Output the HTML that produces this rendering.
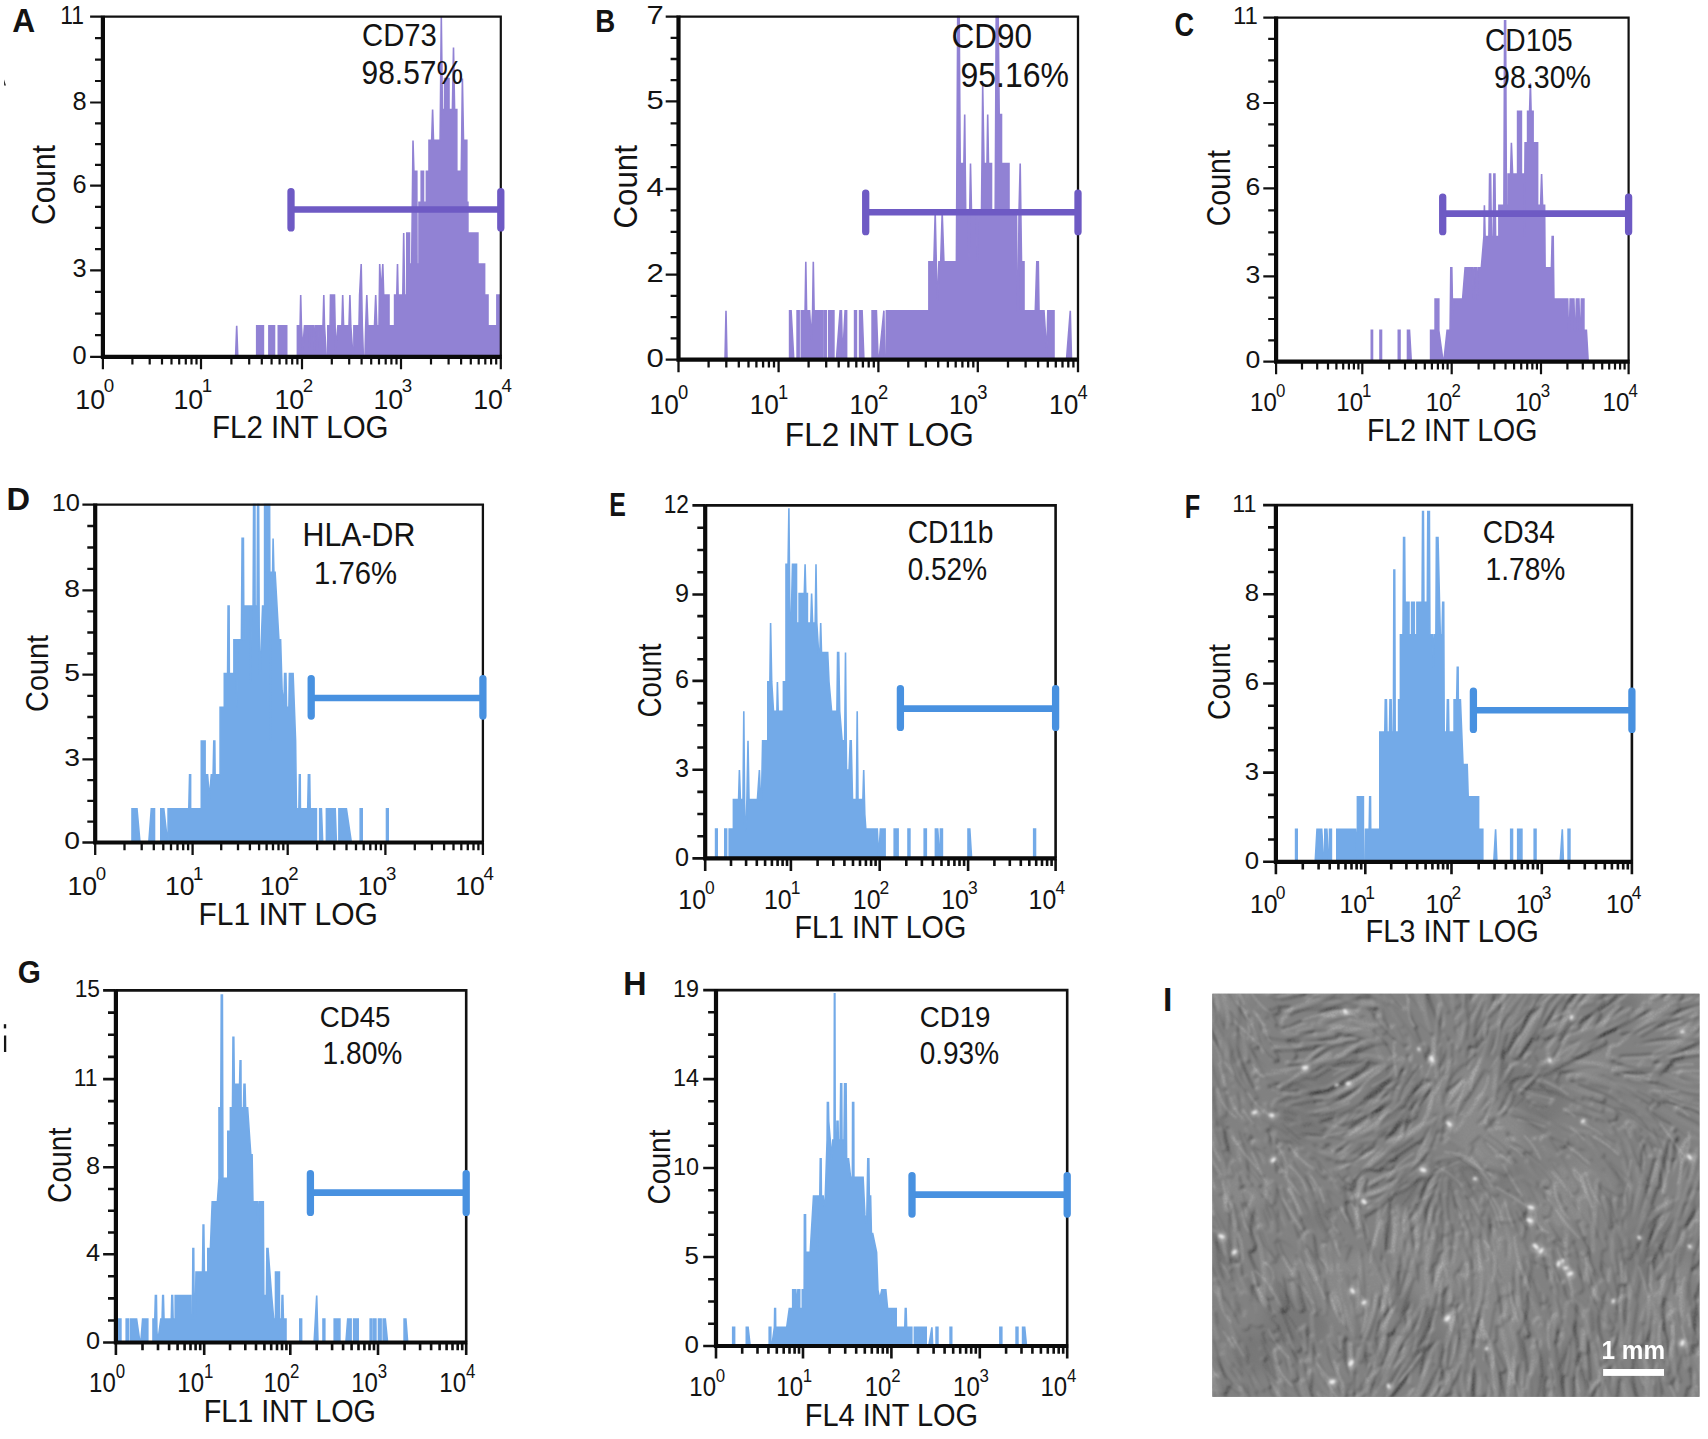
<!DOCTYPE html>
<html lang="en"><head><meta charset="utf-8"><title>Flow cytometry figure</title>
<style>html,body{margin:0;padding:0;background:#fff}body{width:1708px;height:1439px;overflow:hidden}svg{display:block}text{font-family:"Liberation Sans", Arial, sans-serif;fill:#131313}</style></head><body>
<svg width="1708" height="1439" viewBox="0 0 1708 1439">
<rect width="1708" height="1439" fill="#fff"/>
<g>
<path d="M235.6 356.8L236.7 325.9L237.8 356.8L256.7 356.8L256.7 325.9L263.4 325.9L263.4 356.8L268.9 356.8L268.9 325.9L274.5 325.9L274.5 356.8L278.3 356.8L278.3 325.9L286.7 325.9L286.7 356.8L297.4 356.8L297.4 325.9L300.1 325.9L300.7 295L301.4 325.9L302.7 350.6L304.5 325.9L308.9 325.9L309.4 347.5L310.1 325.9L313.4 325.9L314.3 350.6L315.2 325.9L317.4 325.9L317.8 347.5L318.3 325.9L323 325.9L323.8 295L324.5 325.9L326.3 356.8L327.8 356.8L327.8 325.9L330.1 325.9L330.5 295L331.9 295L332.5 325.9L333.2 295L334.5 295L335.6 350.6L337.9 325.9L341.9 325.9L342.7 295L343.6 325.9L349 325.9L349.9 295L350.8 325.9L353 356.8L353.9 356.8L353.9 325.9L359 325.9L359.6 295L361.2 264L362.3 325.9L363.4 356.8L365 356.8L365.7 325.9L366.8 295L367.9 325.9L374.5 325.9L375.7 295L376.8 325.9L379 325.9L379.7 264L381.2 295L382.8 264L383.7 295L389 295L389 325.9L394.6 325.9L394.6 295L396.8 295L397.5 264L398.1 295L402.8 295L403.7 233.1L404.6 295L406.8 295L406.8 233.1L409.5 233.1L409.5 264L411.7 264L413 140.4L413.9 171.3L416.8 171.3L417 264L419 264L419 202.2L421.2 202.2L421.2 171.3L423.5 171.3L423.5 202.2L426.4 202.2L426.4 171.3L429 171.3L429 140.4L431.7 140.4L432.6 109.5L433.5 140.4L440.1 140.4L441.3 16.7L442.4 109.5L444.6 109.5L444.6 78.5L449 78.5L449 109.5L452.4 109.5L453.5 47.6L454.6 109.5L456.8 109.5L456.8 171.3L461.3 171.3L462.4 78.5L463.5 140.4L466.8 140.4L466.8 202.2L467.9 202.2L467.9 233.1L477.9 233.1L477.9 264L484.6 264L484.6 295L488 295L488 325.9L496.9 325.9L496.9 295L500.2 295L500.6 356.8" fill="#9182d4" stroke="#9182d4" stroke-width="1.6" stroke-linejoin="miter" stroke-miterlimit="6"/>
<path d="M102.9 16.7H500.8V356.8" fill="none" stroke="#111" stroke-width="2.2"/>
<g stroke="#6e5ac4" stroke-linecap="round"><path d="M291 209.5H500.8" stroke-width="6.6" stroke-linecap="butt"/><path d="M291 191.6V227.9 M500.8 191.6V227.9" stroke-width="7.3"/></g>
<path d="M90.1 356.8h12.8M95 335.2h7.9M95 313.6h7.9M95 291.9h7.9M90.1 270.3h12.8M95 249.1h7.9M95 227.9h7.9M95 206.8h7.9M90.1 185.6h12.8M95 164.8h7.9M95 144.1h7.9M95 123.3h7.9M90.1 102.5h12.8M95 81h7.9M95 59.6h7.9M95 38.2h7.9M90.1 16.7h12.8M102.9 356.8v12.5M132.4 356.8v7.7M149.7 356.8v7.7M162 356.8v7.7M171.5 356.8v7.7M179.2 356.8v7.7M185.8 356.8v7.7M191.5 356.8v7.7M196.5 356.8v7.7M201 356.8v12.5M231.4 356.8v7.7M249.2 356.8v7.7M261.8 356.8v7.7M271.6 356.8v7.7M279.6 356.8v7.7M286.4 356.8v7.7M292.2 356.8v7.7M297.4 356.8v7.7M302 356.8v12.5M331.8 356.8v7.7M349.2 356.8v7.7M361.6 356.8v7.7M371.2 356.8v7.7M379 356.8v7.7M385.7 356.8v7.7M391.4 356.8v7.7M396.5 356.8v7.7M401 356.8v12.5M431 356.8v7.7M448.6 356.8v7.7M461.1 356.8v7.7M470.8 356.8v7.7M478.7 356.8v7.7M485.3 356.8v7.7M491.1 356.8v7.7M496.2 356.8v7.7M500.8 356.8v12.5" fill="none" stroke="#111" stroke-width="2.2"/>
<path d="M102.9 15.7V356.8H501.8" fill="none" stroke="#0a0a0a" stroke-width="4.2" stroke-linejoin="miter"/>
<text x="86.5" y="363.9" font-size="25.4" text-anchor="end">0</text>
<text x="86.5" y="277.4" font-size="25.4" text-anchor="end">3</text>
<text x="86.5" y="192.7" font-size="25.4" text-anchor="end">6</text>
<text x="86.5" y="109.6" font-size="25.4" text-anchor="end">8</text>
<text transform="translate(83.9 23.8) scale(0.900 1)" font-size="25.4" text-anchor="end">11</text>
<text transform="translate(105.1 408.7) scale(1.080 1.090)" font-size="24.8" text-anchor="end">10</text>
<text transform="translate(103.7 392.3) scale(1.080 1.090)" font-size="17.4">0</text>
<text transform="translate(203.2 408.7) scale(1.080 1.090)" font-size="24.8" text-anchor="end">10</text>
<text transform="translate(201.8 392.3) scale(1.080 1.090)" font-size="17.4">1</text>
<text transform="translate(304.2 408.7) scale(1.080 1.090)" font-size="24.8" text-anchor="end">10</text>
<text transform="translate(302.8 392.3) scale(1.080 1.090)" font-size="17.4">2</text>
<text transform="translate(403.2 408.7) scale(1.080 1.090)" font-size="24.8" text-anchor="end">10</text>
<text transform="translate(401.8 392.3) scale(1.080 1.090)" font-size="17.4">3</text>
<text transform="translate(503 408.7) scale(1.080 1.090)" font-size="24.8" text-anchor="end">10</text>
<text transform="translate(501.6 392.3) scale(1.080 1.090)" font-size="17.4">4</text>
<text transform="translate(300.3 438.2) scale(1 1.07)" font-size="29.5" text-anchor="middle">FL2 INT LOG</text>
<text transform="translate(55 185) rotate(-90) scale(1 1.090)" font-size="30" text-anchor="middle">Count</text>
<text transform="translate(362 45.8) scale(1 1.09)" font-size="29.3">CD73</text>
<text transform="translate(361.6 83.6) scale(1 1.09)" font-size="29.9">98.57%</text>
<text transform="translate(12.2 32) scale(0.982 1)" font-size="32.3" font-weight="bold" fill="#231f20">A</text>
</g>
<g>
<path d="M725 359.7L726 310.7L727 359.7L789.6 359.7L789.6 310.7L791.1 310.7L793.8 359.7L797.1 359.7L797.1 310.7L799.1 310.7L799.1 359.7L801.3 359.7L801.3 310.7L805.1 310.7L805.8 261.7L806.6 310.7L809.6 310.7L811.3 340.1L812.6 310.7L813.3 261.7L814.1 310.7L822.6 310.7L822.6 359.7L824.3 359.7L824.3 310.7L826.3 310.7L826.3 359.7L828.8 359.7L828.8 310.7L833.9 310.7L833.9 359.7L836.4 359.7L840.1 310.7L841.4 310.7L842.6 359.7L845.1 310.7L846.6 310.7L846.6 359.7L854.6 359.7L854.6 310.7L856.4 310.7L856.4 359.7L859.6 359.7L859.6 310.7L862.1 310.7L863.9 359.7L872.1 359.7L872.1 310.7L876.4 310.7L878.1 359.7L879.1 359.7L883.9 310.7L884.6 359.7L886.1 359.7L886.4 310.7L928.9 310.7L928.9 261.7L933.9 261.7L935.2 212.7L936.7 281.3L937.7 300.9L938.9 261.7L940.7 261.7L942.2 212.7L943.9 261.7L956.4 261.7L957.7 16.6L959.2 16.6L960.2 163.6L963.9 163.6L964.7 114.6L965.7 212.7L968.2 212.7L969 261.7L969.7 212.7L970.5 163.6L971.5 212.7L976.5 212.7L977.2 261.7L978.2 212.7L981.5 212.7L982.7 85.2L984 163.6L987 163.6L987.7 114.6L988.5 163.6L991.5 163.6L991.5 212.7L995.2 212.7L996.2 16.6L998.2 16.6L999.2 114.6L1001.5 114.6L1001.5 163.6L1009 163.6L1009 212.7L1016.5 212.7L1017.2 310.7L1018.2 310.7L1019 212.7L1020.2 163.6L1021.5 261.7L1024 261.7L1024 310.7L1035.3 310.7L1036.8 261.7L1038.3 261.7L1039 310.7L1044 310.7L1046.8 354.8L1047.8 310.7L1054 310.7L1054 359.7L1066.5 359.7L1070.3 310.7L1071.5 359.7" fill="#9182d4" stroke="#9182d4" stroke-width="1.6" stroke-linejoin="miter" stroke-miterlimit="6"/>
<path d="M678.5 16.6H1078V359.7" fill="none" stroke="#111" stroke-width="2.3"/>
<g stroke="#6e5ac4" stroke-linecap="round"><path d="M865.7 212.3H1078" stroke-width="6.6" stroke-linecap="butt"/><path d="M865.7 193.1V231.7 M1078 193.1V231.7" stroke-width="7.3"/></g>
<path d="M665.7 359.7h12.8M670.6 338.4h7.9M670.6 317.1h7.9M670.6 295.9h7.9M665.7 274.6h12.8M670.6 253.2h7.9M670.6 231.8h7.9M670.6 210.4h7.9M665.7 189h12.8M670.6 167.1h7.9M670.6 145.2h7.9M670.6 123.3h7.9M665.7 101.4h12.8M670.6 80.2h7.9M670.6 59h7.9M670.6 37.8h7.9M665.7 16.6h12.8M678.5 359.7v12.5M708.6 359.7v7.7M726.3 359.7v7.7M738.8 359.7v7.7M748.5 359.7v7.7M756.4 359.7v7.7M763.1 359.7v7.7M768.9 359.7v7.7M774 359.7v7.7M778.6 359.7v12.5M808.6 359.7v7.7M826.2 359.7v7.7M838.7 359.7v7.7M848.4 359.7v7.7M856.3 359.7v7.7M862.9 359.7v7.7M868.7 359.7v7.7M873.8 359.7v7.7M878.4 359.7v12.5M908.3 359.7v7.7M925.8 359.7v7.7M938.2 359.7v7.7M947.9 359.7v7.7M955.7 359.7v7.7M962.4 359.7v7.7M968.2 359.7v7.7M973.3 359.7v7.7M977.8 359.7v12.5M1008 359.7v7.7M1025.6 359.7v7.7M1038.1 359.7v7.7M1047.8 359.7v7.7M1055.8 359.7v7.7M1062.5 359.7v7.7M1068.3 359.7v7.7M1073.4 359.7v7.7M1078 359.7v12.5" fill="none" stroke="#111" stroke-width="2.3"/>
<path d="M678.5 15.6V359.7H1079" fill="none" stroke="#0a0a0a" stroke-width="4.2" stroke-linejoin="miter"/>
<text transform="translate(663.8 367.1) scale(1.180 1)" font-size="26.3" text-anchor="end">0</text>
<text transform="translate(663.8 282) scale(1.180 1)" font-size="26.3" text-anchor="end">2</text>
<text transform="translate(663.8 196.4) scale(1.180 1)" font-size="26.3" text-anchor="end">4</text>
<text transform="translate(663.8 108.8) scale(1.180 1)" font-size="26.3" text-anchor="end">5</text>
<text transform="translate(663.8 24) scale(1.180 1)" font-size="26.3" text-anchor="end">7</text>
<text transform="translate(678.8 414.1) scale(1.010 1.080)" font-size="26" text-anchor="end">10</text>
<text transform="translate(678 399.1) scale(1.010 1.080)" font-size="18.2">0</text>
<text transform="translate(778.9 414.1) scale(1.010 1.080)" font-size="26" text-anchor="end">10</text>
<text transform="translate(778.1 399.1) scale(1.010 1.080)" font-size="18.2">1</text>
<text transform="translate(878.7 414.1) scale(1.010 1.080)" font-size="26" text-anchor="end">10</text>
<text transform="translate(877.9 399.1) scale(1.010 1.080)" font-size="18.2">2</text>
<text transform="translate(978.1 414.1) scale(1.010 1.080)" font-size="26" text-anchor="end">10</text>
<text transform="translate(977.3 399.1) scale(1.010 1.080)" font-size="18.2">3</text>
<text transform="translate(1078.3 414.1) scale(1.010 1.080)" font-size="26" text-anchor="end">10</text>
<text transform="translate(1077.5 399.1) scale(1.010 1.080)" font-size="18.2">4</text>
<text transform="translate(879.4 445.5) scale(1 1.07)" font-size="31.6" text-anchor="middle">FL2 INT LOG</text>
<text transform="translate(636.7 186.8) rotate(-90) scale(1 1.080)" font-size="31.3" text-anchor="middle">Count</text>
<text transform="translate(951.4 47.7) scale(1 1.09)" font-size="31.5">CD90</text>
<text transform="translate(960.5 87.4) scale(1 1.09)" font-size="32">95.16%</text>
<text transform="translate(595.2 31.6) scale(0.873 1)" font-size="31.7" font-weight="bold" fill="#231f20">B</text>
</g>
<g>
<path d="M1371.3 361.7L1371.3 330.4L1372.5 330.4L1372.5 361.7L1380 361.7L1380 330.4L1381.5 330.4L1381.5 361.7L1398.3 361.7L1398.3 330.4L1400 330.4L1400 361.7L1407.5 361.7L1407.5 330.4L1409.5 330.4L1411.3 361.7L1430.6 361.7L1430.6 330.4L1435.1 330.4L1435.1 299.1L1438.8 299.1L1438.8 330.4L1443.1 361.7L1443.8 361.7L1447.1 330.4L1450.1 330.4L1450.8 267.9L1451.8 267.9L1452.6 314.8L1453.8 299.1L1462.6 299.1L1465.1 267.9L1472.6 267.9L1473.3 299.1L1474.3 267.9L1476.3 267.9L1477.1 299.1L1478.1 267.9L1481.3 267.9L1483.9 236.6L1484.4 205.3L1485.1 236.6L1488.9 236.6L1489.6 174L1490.6 174L1491.4 236.6L1493.1 236.6L1493.9 174L1494.9 174L1495.6 236.6L1498.9 236.6L1498.9 205.3L1503.9 205.3L1504.6 20.7L1505.6 20.7L1506.4 205.3L1508.1 205.3L1508.1 174L1510.6 174L1511.4 142.7L1512.6 174L1517.6 174L1517.6 111.4L1521.4 111.4L1521.4 174L1523.9 174L1524.4 236.6L1525.1 142.7L1527.6 142.7L1527.6 111.4L1529.6 111.4L1530.4 83.3L1531.1 111.4L1533.1 111.4L1533.1 142.7L1537.6 142.7L1537.6 205.3L1540.6 205.3L1541.6 174L1542.6 205.3L1544.6 205.3L1545.1 267.9L1546.4 267.9L1551.4 267.9L1552.2 236.6L1553.2 236.6L1553.9 299.1L1567.7 299.1L1568.4 330.4L1569.4 330.4L1570.2 299.1L1573.9 299.1L1574.7 330.4L1575.7 330.4L1576.4 299.1L1578.9 299.1L1579.7 330.4L1580.7 330.4L1581.4 299.1L1583.9 299.1L1583.9 330.4L1586.4 330.4L1588.2 361.7" fill="#9182d4" stroke="#9182d4" stroke-width="1.6" stroke-linejoin="miter" stroke-miterlimit="6"/>
<path d="M1276.1 17.6H1628.6V361.7" fill="none" stroke="#111" stroke-width="2.2"/>
<g stroke="#6e5ac4" stroke-linecap="round"><path d="M1442.7 213.6H1628.6" stroke-width="6.6" stroke-linecap="butt"/><path d="M1442.7 197.1V231.7 M1628.6 197.1V231.7" stroke-width="7.3"/></g>
<path d="M1263.3 361.7h12.8M1268.2 340.4h7.9M1268.2 319h7.9M1268.2 297.6h7.9M1263.3 276.3h12.8M1268.2 254.3h7.9M1268.2 232.3h7.9M1268.2 210.3h7.9M1263.3 188.3h12.8M1268.2 167h7.9M1268.2 145.7h7.9M1268.2 124.3h7.9M1263.3 103h12.8M1268.2 81.7h7.9M1268.2 60.3h7.9M1268.2 38.9h7.9M1263.3 17.6h12.8M1276.1 361.7v12.5M1302 361.7v7.7M1317.2 361.7v7.7M1328 361.7v7.7M1336.4 361.7v7.7M1343.2 361.7v7.7M1348.9 361.7v7.7M1353.9 361.7v7.7M1358.4 361.7v7.7M1362.3 361.7v12.5M1389.2 361.7v7.7M1405 361.7v7.7M1416.1 361.7v7.7M1424.8 361.7v7.7M1431.9 361.7v7.7M1437.9 361.7v7.7M1443 361.7v7.7M1447.6 361.7v7.7M1451.7 361.7v12.5M1478.6 361.7v7.7M1494.3 361.7v7.7M1505.5 361.7v7.7M1514.1 361.7v7.7M1521.2 361.7v7.7M1527.2 361.7v7.7M1532.3 361.7v7.7M1536.9 361.7v7.7M1541 361.7v12.5M1567.4 361.7v7.7M1582.8 361.7v7.7M1593.7 361.7v7.7M1602.2 361.7v7.7M1609.2 361.7v7.7M1615 361.7v7.7M1620.1 361.7v7.7M1624.6 361.7v7.7M1628.6 361.7v12.5" fill="none" stroke="#111" stroke-width="2.2"/>
<path d="M1276.1 16.6V361.7H1629.6" fill="none" stroke="#0a0a0a" stroke-width="4.2" stroke-linejoin="miter"/>
<text transform="translate(1260.4 368.2) scale(1.120 1)" font-size="23.8" text-anchor="end">0</text>
<text transform="translate(1260.4 282.8) scale(1.120 1)" font-size="23.8" text-anchor="end">3</text>
<text transform="translate(1260.4 194.8) scale(1.120 1)" font-size="23.8" text-anchor="end">6</text>
<text transform="translate(1260.4 109.5) scale(1.120 1)" font-size="23.8" text-anchor="end">8</text>
<text transform="translate(1257.8 24.1) scale(1.008 1)" font-size="23.8" text-anchor="end">11</text>
<text transform="translate(1276.8 411.3) scale(1.010 1.075)" font-size="23.8" text-anchor="end">10</text>
<text transform="translate(1275.9 397) scale(1.010 1.075)" font-size="16.7">0</text>
<text transform="translate(1363 411.3) scale(1.010 1.075)" font-size="23.8" text-anchor="end">10</text>
<text transform="translate(1362.1 397) scale(1.010 1.075)" font-size="16.7">1</text>
<text transform="translate(1452.4 411.3) scale(1.010 1.075)" font-size="23.8" text-anchor="end">10</text>
<text transform="translate(1451.5 397) scale(1.010 1.075)" font-size="16.7">2</text>
<text transform="translate(1541.7 411.3) scale(1.010 1.075)" font-size="23.8" text-anchor="end">10</text>
<text transform="translate(1540.8 397) scale(1.010 1.075)" font-size="16.7">3</text>
<text transform="translate(1629.3 411.3) scale(1.010 1.075)" font-size="23.8" text-anchor="end">10</text>
<text transform="translate(1628.4 397) scale(1.010 1.075)" font-size="16.7">4</text>
<text transform="translate(1452.2 440.5) scale(1 1.07)" font-size="28.5" text-anchor="middle">FL2 INT LOG</text>
<text transform="translate(1229.8 188.2) rotate(-90) scale(1 1.150)" font-size="28.6" text-anchor="middle">Count</text>
<text transform="translate(1485 50.7) scale(1 1.09)" font-size="28.2">CD105</text>
<text transform="translate(1494 88.4) scale(1 1.09)" font-size="28.6">98.30%</text>
<text transform="translate(1174.6 35.9) scale(0.819 1)" font-size="33.1" font-weight="bold" fill="#231f20">C</text>
</g>
<g>
<path d="M132 842.5L132 808.7L133.8 808.7L134.5 832.4L135 808.7L137 808.7L140 842.5L148.8 842.5L151.3 808.7L154.5 808.7L154.5 842.5L160.8 842.5L160.8 808.7L163.8 808.7L167.6 842.5L168.1 842.5L168.1 808.7L188.8 808.7L189.6 774.9L190.6 774.9L190.6 808.7L201.3 808.7L201.3 741.1L205.1 741.1L205.1 774.9L207.6 774.9L209.3 798.6L211.3 774.9L213.1 774.9L213.8 741.1L214.8 741.1L215.1 774.9L220.1 774.9L220.1 707.3L224.3 707.3L224.3 673.5L227.6 673.5L228.1 606L229.1 606L229.3 673.5L233.9 673.5L233.9 639.8L236.4 639.8L236.9 707.3L237.6 639.8L241.4 639.8L242.1 538.4L243.4 538.4L243.9 639.8L245.1 639.8L245.1 606L250.1 606L250.6 683.7L251.4 606L253.1 606L253.6 504.6L254.9 504.6L255.1 606L257.1 606L257.6 504.6L258.6 504.6L259.4 673.5L260.1 673.5L262.6 606L264.6 606L264.6 504.6L269.6 504.6L270.4 741.1L271.1 572.2L272.6 572.2L273.1 538.4L273.9 572.2L275.1 572.2L278.9 639.8L280.6 639.8L282.1 690.4L283.9 707.3L284.6 673.5L285.9 673.5L286.6 707.3L288.9 707.3L289.4 673.5L290.4 673.5L290.9 707.3L291.6 673.5L293.1 673.5L295.6 741.1L296.4 808.7L298.9 808.7L299.4 774.9L300.2 774.9L300.4 808.7L307.7 808.7L308.4 774.9L309.7 774.9L310.2 808.7L316.4 808.7L316.4 842.5L319.7 842.5L319.7 808.7L321.4 808.7L322.7 842.5L326.4 842.5L326.4 808.7L328.2 808.7L328.7 842.5L329.7 842.5L329.7 808.7L331.4 808.7L332.2 842.5L332.7 842.5L332.7 808.7L335.2 808.7L336.4 842.5L338.9 842.5L338.9 808.7L346.4 808.7L351.4 842.5L360.2 842.5L360.2 808.7L362.2 808.7L362.2 842.5L386.5 842.5L386.5 808.7L388.2 808.7L388.2 842.5" fill="#73aae8" stroke="#73aae8" stroke-width="1.6" stroke-linejoin="miter" stroke-miterlimit="6"/>
<path d="M95.2 504.6H482.9V842.5" fill="none" stroke="#111" stroke-width="2.3"/>
<g stroke="#4891e0" stroke-linecap="round"><path d="M311.2 698H482.9" stroke-width="6.6" stroke-linecap="butt"/><path d="M311.2 678.6V716 M482.9 678.6V716" stroke-width="7.3"/></g>
<path d="M82.4 842.5h12.8M87.3 821.7h7.9M87.3 800.9h7.9M87.3 780.1h7.9M82.4 759.3h12.8M87.3 738.1h7.9M87.3 717h7.9M87.3 695.8h7.9M82.4 674.6h12.8M87.3 653.5h7.9M87.3 632.5h7.9M87.3 611.4h7.9M82.4 590.3h12.8M87.3 568.9h7.9M87.3 547.5h7.9M87.3 526h7.9M82.4 504.6h12.8M95.2 842.5v12.5M124.5 842.5v7.7M141.7 842.5v7.7M153.8 842.5v7.7M163.3 842.5v7.7M171 842.5v7.7M177.5 842.5v7.7M183.2 842.5v7.7M188.1 842.5v7.7M192.6 842.5v12.5M221.2 842.5v7.7M238 842.5v7.7M249.9 842.5v7.7M259.1 842.5v7.7M266.6 842.5v7.7M273 842.5v7.7M278.5 842.5v7.7M283.3 842.5v7.7M287.7 842.5v12.5M317.1 842.5v7.7M334.3 842.5v7.7M346.5 842.5v7.7M356 842.5v7.7M363.7 842.5v7.7M370.3 842.5v7.7M375.9 842.5v7.7M380.9 842.5v7.7M385.4 842.5v12.5M414.8 842.5v7.7M431.9 842.5v7.7M444.1 842.5v7.7M453.5 842.5v7.7M461.3 842.5v7.7M467.8 842.5v7.7M473.5 842.5v7.7M478.4 842.5v7.7M482.9 842.5v12.5" fill="none" stroke="#111" stroke-width="2.3"/>
<path d="M95.2 503.6V842.5H483.9" fill="none" stroke="#0a0a0a" stroke-width="4.2" stroke-linejoin="miter"/>
<text transform="translate(80 849.1) scale(1.170 1)" font-size="24.2" text-anchor="end">0</text>
<text transform="translate(80 765.9) scale(1.170 1)" font-size="24.2" text-anchor="end">3</text>
<text transform="translate(80 681.2) scale(1.170 1)" font-size="24.2" text-anchor="end">5</text>
<text transform="translate(80 596.9) scale(1.170 1)" font-size="24.2" text-anchor="end">8</text>
<text transform="translate(80 511.2) scale(1.053 1)" font-size="24.2" text-anchor="end">10</text>
<text transform="translate(97.1 894.9) scale(1.083 1.065)" font-size="24.6" text-anchor="end">10</text>
<text transform="translate(95.7 879.6) scale(1.083 1.065)" font-size="17.2">0</text>
<text transform="translate(194.5 894.9) scale(1.083 1.065)" font-size="24.6" text-anchor="end">10</text>
<text transform="translate(193.1 879.6) scale(1.083 1.065)" font-size="17.2">1</text>
<text transform="translate(289.6 894.9) scale(1.083 1.065)" font-size="24.6" text-anchor="end">10</text>
<text transform="translate(288.2 879.6) scale(1.083 1.065)" font-size="17.2">2</text>
<text transform="translate(387.3 894.9) scale(1.083 1.065)" font-size="24.6" text-anchor="end">10</text>
<text transform="translate(385.9 879.6) scale(1.083 1.065)" font-size="17.2">3</text>
<text transform="translate(484.8 894.9) scale(1.083 1.065)" font-size="24.6" text-anchor="end">10</text>
<text transform="translate(483.4 879.6) scale(1.083 1.065)" font-size="17.2">4</text>
<text transform="translate(288.1 925) scale(1 1.07)" font-size="30" text-anchor="middle">FL1 INT LOG</text>
<text transform="translate(47.7 673.5) rotate(-90) scale(1 1.100)" font-size="28.8" text-anchor="middle">Count</text>
<text transform="translate(302.5 545.7) scale(1 1.09)" font-size="30.3">HLA-DR</text>
<text transform="translate(314 584) scale(1 1.09)" font-size="29.3">1.76%</text>
<text transform="translate(6.5 510.4) scale(1.036 1)" font-size="31.5" font-weight="bold" fill="#231f20">D</text>
</g>
<g>
<path d="M715.6 858.4L715.6 829L717.2 829L717.2 858.4L724.8 858.4L724.8 829L726.6 829L726.6 858.4L729.2 858.4L729.2 829L733.4 829L733.4 799.6L738.6 799.6L739.4 770.1L740.4 799.6L743 799.6L743.8 711.3L744.8 826L745.9 829L746.9 799.6L748 740.7L749 799.6L757.4 799.6L759.4 770.1L760.5 799.6L761.5 799.6L762.6 740.7L767.8 740.7L767.8 681.9L769.9 681.9L770.6 623.1L771.7 681.9L773.5 711.3L776.9 711.3L777.4 681.9L778.2 711.3L783.4 711.3L783.4 681.9L786 681.9L786 564.2L788.1 564.2L788.9 508.3L789.9 623.1L791.2 623.1L792.5 564.2L796.5 564.2L796.5 623.1L799.1 623.1L799.1 593.6L804.3 593.6L805.1 564.2L805.8 593.6L807.4 593.6L807.4 623.1L810.8 623.1L811.6 593.6L812.6 623.1L815.2 623.1L816 564.2L816.8 623.1L818.6 652.5L819.9 652.5L820.7 623.1L821.5 652.5L825.1 652.5L827.7 652.5L829 681.9L831.6 711.3L836.9 711.3L837.6 652.5L838.7 652.5L839.7 711.3L842.1 740.7L844.7 740.7L845.5 652.5L846.5 770.1L849.1 770.1L850.2 740.7L851.2 740.7L852.5 799.6L856.4 799.6L857.2 711.3L858 799.6L862.9 799.6L863.7 770.1L864.8 814.3L865.8 829L877.3 829L878.6 858.4L880.4 829L880.4 829L885.1 829L885.1 858.4L894.2 858.4L894.2 829L895.5 829L896 849.6L896.8 829L898.1 829L898.1 858.4L908 858.4L908 829L909.9 829L909.9 858.4L924.2 858.4L924.2 829L926.3 829L926.3 858.4L935.4 858.4L935.4 829L937.7 829L939.8 858.4L940.4 858.4L940.4 829L942.4 829L942.4 858.4L968 858.4L968 829L969.8 829L971.6 858.4L1033.7 858.4L1033.7 829L1035.5 829L1035.5 858.4" fill="#73aae8" stroke="#73aae8" stroke-width="1.6" stroke-linejoin="miter" stroke-miterlimit="6"/>
<path d="M705.2 505.4H1055.6V858.4" fill="none" stroke="#111" stroke-width="2.6"/>
<g stroke="#4891e0" stroke-linecap="round"><path d="M900.4 708.6H1055.6" stroke-width="6.6" stroke-linecap="butt"/><path d="M900.4 688.6V727.4 M1055.6 688.6V727.4" stroke-width="7.3"/></g>
<path d="M692.4 858.4h12.8M697.3 836.2h7.9M697.3 814h7.9M697.3 791.9h7.9M692.4 769.7h12.8M697.3 747.5h7.9M697.3 725.3h7.9M697.3 703.1h7.9M692.4 680.9h12.8M697.3 659.3h7.9M697.3 637.7h7.9M697.3 616.1h7.9M692.4 594.5h12.8M697.3 572.2h7.9M697.3 550h7.9M697.3 527.7h7.9M692.4 505.4h12.8M705.2 858.4v12.5M731 858.4v7.7M746.1 858.4v7.7M756.8 858.4v7.7M765.1 858.4v7.7M771.9 858.4v7.7M777.6 858.4v7.7M782.6 858.4v7.7M787 858.4v7.7M790.9 858.4v12.5M817.6 858.4v7.7M833.3 858.4v7.7M844.4 858.4v7.7M853 858.4v7.7M860 858.4v7.7M865.9 858.4v7.7M871.1 858.4v7.7M875.6 858.4v7.7M879.7 858.4v12.5M906.3 858.4v7.7M921.9 858.4v7.7M932.9 858.4v7.7M941.5 858.4v7.7M948.5 858.4v7.7M954.4 858.4v7.7M959.5 858.4v7.7M964.1 858.4v7.7M968.1 858.4v12.5M994.4 858.4v7.7M1009.8 858.4v7.7M1020.8 858.4v7.7M1029.3 858.4v7.7M1036.2 858.4v7.7M1042 858.4v7.7M1047.1 858.4v7.7M1051.6 858.4v7.7M1055.6 858.4v12.5" fill="none" stroke="#111" stroke-width="2.6"/>
<path d="M705.2 504.4V858.4H1056.6" fill="none" stroke="#0a0a0a" stroke-width="4.2" stroke-linejoin="miter"/>
<text transform="translate(689 865.7) scale(0.970 1)" font-size="26" text-anchor="end">0</text>
<text transform="translate(689 777) scale(0.970 1)" font-size="26" text-anchor="end">3</text>
<text transform="translate(689 688.2) scale(0.970 1)" font-size="26" text-anchor="end">6</text>
<text transform="translate(689 601.8) scale(0.970 1)" font-size="26" text-anchor="end">9</text>
<text transform="translate(689 512.7) scale(0.873 1)" font-size="26" text-anchor="end">12</text>
<text transform="translate(706 908.9) scale(1.020 1.110)" font-size="24.4" text-anchor="end">10</text>
<text transform="translate(705 894.2) scale(1.020 1.110)" font-size="17.1">0</text>
<text transform="translate(791.6 908.9) scale(1.020 1.110)" font-size="24.4" text-anchor="end">10</text>
<text transform="translate(790.7 894.2) scale(1.020 1.110)" font-size="17.1">1</text>
<text transform="translate(880.5 908.9) scale(1.020 1.110)" font-size="24.4" text-anchor="end">10</text>
<text transform="translate(879.5 894.2) scale(1.020 1.110)" font-size="17.1">2</text>
<text transform="translate(968.9 908.9) scale(1.020 1.110)" font-size="24.4" text-anchor="end">10</text>
<text transform="translate(967.9 894.2) scale(1.020 1.110)" font-size="17.1">3</text>
<text transform="translate(1056.3 908.9) scale(1.020 1.110)" font-size="24.4" text-anchor="end">10</text>
<text transform="translate(1055.4 894.2) scale(1.020 1.110)" font-size="17.1">4</text>
<text transform="translate(880.4 937.6) scale(1 1.07)" font-size="28.7" text-anchor="middle">FL1 INT LOG</text>
<text transform="translate(660.8 680.5) rotate(-90) scale(1 1.170)" font-size="27.8" text-anchor="middle">Count</text>
<text transform="translate(907.7 542.7) scale(1 1.09)" font-size="28.2">CD11b</text>
<text transform="translate(907.7 579.5) scale(1 1.09)" font-size="28">0.52%</text>
<text transform="translate(609.3 515.8) scale(0.772 1)" font-size="32.3" font-weight="bold" fill="#231f20">E</text>
</g>
<g>
<path d="M1295.6 861.8L1295.6 829.4L1297.2 829.4L1297.2 861.8L1315.2 861.8L1317 829.4L1321.7 829.4L1323.8 861.8L1324.8 861.8L1324.8 829.4L1326.9 829.4L1328.5 861.8L1329.5 861.8L1329.5 829.4L1331.4 829.4L1331.4 861.8L1336.8 861.8L1336.8 829.4L1355.6 829.4L1357.4 861.8L1357.4 861.8L1357.4 796.9L1363.4 796.9L1363.4 861.8L1365 861.8L1365.5 829.4L1369.2 829.4L1369.7 796.9L1370.5 796.9L1370.7 829.4L1379.8 829.4L1379.8 732.1L1384.8 732.1L1385.3 699.7L1386.4 699.7L1386.9 732.1L1389.5 732.1L1390 699.7L1391.1 699.7L1391.6 732.1L1393.4 732.1L1393.9 570L1394.7 570L1395.2 732.1L1398.6 732.1L1398.6 699.7L1400.4 699.7L1400.4 634.8L1403 634.8L1403.6 537.5L1404.6 537.5L1405.1 602.4L1409 602.4L1409 634.8L1411.6 634.8L1411.6 602.4L1414.3 602.4L1414.3 634.8L1416.9 634.8L1416.9 602.4L1422.1 602.4L1422.6 511.6L1423.4 511.6L1423.9 602.4L1427.3 602.4L1427.8 511.6L1429.4 511.6L1429.9 634.8L1432.5 634.8L1433.3 667.2L1434.3 634.8L1435.9 634.8L1436.4 537.5L1438 537.5L1440.3 634.8L1442.1 634.8L1442.7 602.4L1443.7 602.4L1444.2 732.1L1446.8 732.1L1447.4 699.7L1448.4 699.7L1448.9 732.1L1454.1 732.1L1454.1 699.7L1456.7 699.7L1457.3 667.2L1458.1 667.2L1458.3 699.7L1460.4 699.7L1463 764.5L1467.2 764.5L1468.2 796.9L1478.6 796.9L1478.6 829.4L1482.8 829.4L1482.8 861.8L1493.8 861.8L1495.6 829.4L1496.9 861.8L1510.7 861.8L1510.7 829.4L1512.5 829.4L1512.5 861.8L1517.7 861.8L1517.7 829.4L1519.3 829.4L1519.6 855.3L1519.8 829.4L1521.9 829.4L1521.9 861.8L1534.2 861.8L1534.2 829.4L1536 829.4L1536 861.8L1560.2 861.8L1562.3 829.4L1563.4 861.8L1568.1 861.8L1568.1 829.4L1569.9 829.4L1569.9 861.8" fill="#73aae8" stroke="#73aae8" stroke-width="1.6" stroke-linejoin="miter" stroke-miterlimit="6"/>
<path d="M1275.9 505.1H1631.9V861.8" fill="none" stroke="#111" stroke-width="2.6"/>
<g stroke="#4891e0" stroke-linecap="round"><path d="M1473.4 710.3H1631.9" stroke-width="6.6" stroke-linecap="butt"/><path d="M1473.4 691.2V729.4 M1631.9 691.2V729.4" stroke-width="7.3"/></g>
<path d="M1263.1 861.8h12.8M1268 839.5h7.9M1268 817.2h7.9M1268 794.9h7.9M1263.1 772.6h12.8M1268 750.3h7.9M1268 728h7.9M1268 705.7h7.9M1263.1 683.5h12.8M1268 661.2h7.9M1268 638.9h7.9M1268 616.6h7.9M1263.1 594.3h12.8M1268 572h7.9M1268 549.7h7.9M1268 527.4h7.9M1263.1 505.1h12.8M1275.9 861.8v12.5M1302.8 861.8v7.7M1318.6 861.8v7.7M1329.7 861.8v7.7M1338.4 861.8v7.7M1345.5 861.8v7.7M1351.5 861.8v7.7M1356.6 861.8v7.7M1361.2 861.8v7.7M1365.3 861.8v12.5M1391.2 861.8v7.7M1406.4 861.8v7.7M1417.2 861.8v7.7M1425.6 861.8v7.7M1432.4 861.8v7.7M1438.1 861.8v7.7M1443.1 861.8v7.7M1447.6 861.8v7.7M1451.5 861.8v12.5M1478.7 861.8v7.7M1494.6 861.8v7.7M1505.9 861.8v7.7M1514.6 861.8v7.7M1521.8 861.8v7.7M1527.8 861.8v7.7M1533 861.8v7.7M1537.7 861.8v7.7M1541.8 861.8v12.5M1568.9 861.8v7.7M1584.8 861.8v7.7M1596 861.8v7.7M1604.8 861.8v7.7M1611.9 861.8v7.7M1617.9 861.8v7.7M1623.2 861.8v7.7M1627.8 861.8v7.7M1631.9 861.8v12.5" fill="none" stroke="#111" stroke-width="2.6"/>
<path d="M1275.9 504.1V861.8H1632.9" fill="none" stroke="#0a0a0a" stroke-width="4.2" stroke-linejoin="miter"/>
<text transform="translate(1259 868.7) scale(1.040 1)" font-size="24.8" text-anchor="end">0</text>
<text transform="translate(1259 779.5) scale(1.040 1)" font-size="24.8" text-anchor="end">3</text>
<text transform="translate(1259 690.3) scale(1.040 1)" font-size="24.8" text-anchor="end">6</text>
<text transform="translate(1259 601.1) scale(1.040 1)" font-size="24.8" text-anchor="end">8</text>
<text transform="translate(1256.4 512) scale(0.936 1)" font-size="24.8" text-anchor="end">11</text>
<text transform="translate(1277.7 912.7) scale(1.038 1.104)" font-size="24" text-anchor="end">10</text>
<text transform="translate(1275.8 899.3) scale(1.038 1.104)" font-size="16.8">0</text>
<text transform="translate(1367.1 912.7) scale(1.038 1.104)" font-size="24" text-anchor="end">10</text>
<text transform="translate(1365.2 899.3) scale(1.038 1.104)" font-size="16.8">1</text>
<text transform="translate(1453.3 912.7) scale(1.038 1.104)" font-size="24" text-anchor="end">10</text>
<text transform="translate(1451.4 899.3) scale(1.038 1.104)" font-size="16.8">2</text>
<text transform="translate(1543.6 912.7) scale(1.038 1.104)" font-size="24" text-anchor="end">10</text>
<text transform="translate(1541.7 899.3) scale(1.038 1.104)" font-size="16.8">3</text>
<text transform="translate(1633.7 912.7) scale(1.038 1.104)" font-size="24" text-anchor="end">10</text>
<text transform="translate(1631.8 899.3) scale(1.038 1.104)" font-size="16.8">4</text>
<text transform="translate(1452.2 941.5) scale(1 1.07)" font-size="29" text-anchor="middle">FL3 INT LOG</text>
<text transform="translate(1229.8 682) rotate(-90) scale(1 1.130)" font-size="28.5" text-anchor="middle">Count</text>
<text transform="translate(1482.8 542.7) scale(1 1.09)" font-size="28.2">CD34</text>
<text transform="translate(1485.5 579.5) scale(1 1.09)" font-size="28.2">1.78%</text>
<text transform="translate(1184.7 517.5) scale(0.785 1)" font-size="32.3" font-weight="bold" fill="#231f20">F</text>
</g>
<g>
<path d="M117.8 1342.5L117.8 1319L120.9 1319L120.9 1342.5L126.2 1342.5L126.2 1319L128.2 1319L128.2 1342.5L130.3 1342.5L130.3 1319L136.6 1319L140 1342.5L140.8 1342.5L142.6 1319L147.8 1319L147.8 1342.5L153 1342.5L153 1319L154.8 1319L155.4 1295.6L156.4 1295.6L156.9 1330.8L157.7 1342.5L160.8 1319L162.1 1319L162.7 1295.6L163.4 1295.6L164 1319L171.3 1319L171.8 1295.6L172.6 1295.6L173.1 1319L175.2 1319L175.2 1295.6L190.8 1295.6L190.8 1319L192.4 1319L192.9 1248.6L193.7 1248.6L194.2 1319L195.2 1319L196 1272.1L202.5 1272.1L203.1 1225.1L203.8 1225.1L204.4 1272.1L207.8 1272.1L207.8 1248.6L210.4 1248.6L212.2 1201.7L217.4 1201.7L219 1178.2L219 1107.8L220.8 1107.8L221.3 995.1L222.4 995.1L222.9 1178.2L227.8 1178.2L227.8 1131.2L230.4 1131.2L230.4 1107.8L232.5 1107.8L233 1037.3L233.8 1037.3L234.3 1084.3L239.6 1084.3L240.1 1060.8L240.9 1060.8L241.1 1107.8L243.5 1107.8L244 1084.3L245 1084.3L245.6 1107.8L247.6 1107.8L250.8 1154.7L252.1 1154.7L252.9 1201.7L257.3 1201.7L258.1 1225.1L259.1 1201.7L263.3 1201.7L263.8 1295.6L266.4 1295.6L266.9 1248.6L268 1248.6L271.6 1295.6L273.7 1319L275.5 1319L275.5 1272.1L279.4 1272.1L279.4 1319L281.5 1319L282.1 1295.6L282.8 1295.6L283.4 1319L286 1319L286 1342.5L299.8 1342.5L299.8 1319L301.6 1319L301.6 1342.5L314.1 1342.5L316.7 1295.6L318 1342.5L323 1342.5L323 1319L324.8 1319L324.8 1342.5L334.2 1342.5L334.2 1319L336.3 1319L336.8 1337.8L337.3 1319L339.9 1319L339.9 1342.5L345.9 1342.5L347.7 1319L351.1 1319L351.1 1342.5L353.7 1342.5L353.7 1319L358.2 1319L358.2 1342.5L370.2 1342.5L370.2 1319L372 1319L372 1342.5L373.8 1342.5L373.8 1319L375.9 1319L375.9 1342.5L378.5 1342.5L378.5 1319L381.1 1319L381.1 1342.5L383.2 1342.5L383.2 1319L385.3 1319L387.6 1342.5L404.1 1342.5L404.1 1319L405.9 1319L407.7 1342.5" fill="#73aae8" stroke="#73aae8" stroke-width="1.6" stroke-linejoin="miter" stroke-miterlimit="6"/>
<path d="M115.9 990.4H466.2V1342.5" fill="none" stroke="#111" stroke-width="2.6"/>
<g stroke="#4891e0" stroke-linecap="round"><path d="M310.4 1192.6H466.2" stroke-width="6.6" stroke-linecap="butt"/><path d="M310.4 1173.6V1212.4 M466.2 1173.6V1212.4" stroke-width="7.3"/></g>
<path d="M103.1 1342.5h12.8M108 1320.5h7.9M108 1298.4h7.9M108 1276.3h7.9M103.1 1254.3h12.8M108 1232.5h7.9M108 1210.8h7.9M108 1189h7.9M103.1 1167.2h12.8M108 1145.2h7.9M108 1123.2h7.9M108 1101.1h7.9M103.1 1079.1h12.8M108 1056.9h7.9M108 1034.8h7.9M108 1012.6h7.9M103.1 990.4h12.8M115.9 1342.5v12.5M142.5 1342.5v7.7M158 1342.5v7.7M169.1 1342.5v7.7M177.6 1342.5v7.7M184.6 1342.5v7.7M190.5 1342.5v7.7M195.6 1342.5v7.7M200.2 1342.5v7.7M204.2 1342.5v12.5M230.1 1342.5v7.7M245.3 1342.5v7.7M256 1342.5v7.7M264.4 1342.5v7.7M271.2 1342.5v7.7M277 1342.5v7.7M282 1342.5v7.7M286.4 1342.5v7.7M290.3 1342.5v12.5M316.7 1342.5v7.7M332.1 1342.5v7.7M343.1 1342.5v7.7M351.6 1342.5v7.7M358.5 1342.5v7.7M364.4 1342.5v7.7M369.5 1342.5v7.7M374 1342.5v7.7M378 1342.5v12.5M404.6 1342.5v7.7M420.1 1342.5v7.7M431.1 1342.5v7.7M439.6 1342.5v7.7M446.6 1342.5v7.7M452.5 1342.5v7.7M457.7 1342.5v7.7M462.2 1342.5v7.7M466.2 1342.5v12.5" fill="none" stroke="#111" stroke-width="2.6"/>
<path d="M115.9 989.4V1342.5H467.2" fill="none" stroke="#0a0a0a" stroke-width="4.2" stroke-linejoin="miter"/>
<text transform="translate(100 1349.3) scale(1.030 1)" font-size="24.6" text-anchor="end">0</text>
<text transform="translate(100 1261.1) scale(1.030 1)" font-size="24.6" text-anchor="end">4</text>
<text transform="translate(100 1174) scale(1.030 1)" font-size="24.6" text-anchor="end">8</text>
<text transform="translate(97.4 1085.9) scale(0.927 1)" font-size="24.6" text-anchor="end">11</text>
<text transform="translate(100 997.2) scale(0.927 1)" font-size="24.6" text-anchor="end">15</text>
<text transform="translate(115.8 1392.1) scale(0.985 1.140)" font-size="24.4" text-anchor="end">10</text>
<text transform="translate(115.7 1378.1) scale(0.985 1.140)" font-size="17.1">0</text>
<text transform="translate(204.1 1392.1) scale(0.985 1.140)" font-size="24.4" text-anchor="end">10</text>
<text transform="translate(204 1378.1) scale(0.985 1.140)" font-size="17.1">1</text>
<text transform="translate(290.2 1392.1) scale(0.985 1.140)" font-size="24.4" text-anchor="end">10</text>
<text transform="translate(290.1 1378.1) scale(0.985 1.140)" font-size="17.1">2</text>
<text transform="translate(377.9 1392.1) scale(0.985 1.140)" font-size="24.4" text-anchor="end">10</text>
<text transform="translate(377.8 1378.1) scale(0.985 1.140)" font-size="17.1">3</text>
<text transform="translate(466.1 1392.1) scale(0.985 1.140)" font-size="24.4" text-anchor="end">10</text>
<text transform="translate(466 1378.1) scale(0.985 1.140)" font-size="17.1">4</text>
<text transform="translate(289.8 1422.2) scale(1 1.07)" font-size="28.8" text-anchor="middle">FL1 INT LOG</text>
<text transform="translate(71 1165.3) rotate(-90) scale(1 1.190)" font-size="28.2" text-anchor="middle">Count</text>
<text transform="translate(319.7 1027.4) scale(1 1.09)" font-size="27.7">CD45</text>
<text transform="translate(322.5 1064) scale(1 1.09)" font-size="28.2">1.80%</text>
<text transform="translate(17.8 983.3) scale(0.941 1)" font-size="31.6" font-weight="bold" fill="#231f20">G</text>
</g>
<g>
<path d="M732.7 1346L732.7 1327.3L734.6 1327.3L734.6 1346L746.3 1346L746.3 1327.3L748.1 1327.3L750.2 1346L769.2 1346L769.2 1327.3L770.8 1327.3L770.8 1346L771.8 1346L774.4 1327.3L774.7 1308.5L775.5 1308.5L775.7 1327.3L786.7 1327.3L789.3 1308.5L792.7 1308.5L792.7 1289.8L795.8 1289.8L796.9 1308.5L797.9 1289.8L799.7 1289.8L799.7 1308.5L802.3 1308.5L802.3 1289.8L804.2 1289.8L804.4 1214.9L805.5 1214.9L805.7 1252.3L810.2 1252.3L813.5 1196.1L816.7 1196.1L817.2 1252.3L818 1196.1L819.8 1196.1L820.3 1158.7L821.1 1158.7L821.4 1196.1L823.2 1196.1L824 1205.5L825 1205.5L827.1 1140L827.4 1102.5L828.4 1102.5L828.7 1121.2L831 1149.3L831.8 1158.7L832.8 1140L834.1 1140L834.4 993.8L834.9 993.8L835.2 1140L836.7 1140L837 1121.2L838 1121.2L838.3 1140L840.1 1140L840.7 1083.8L841.7 1083.8L842 1140L844 1140L844.6 1083.8L846.1 1083.8L846.6 1158.7L848.5 1158.7L850.6 1177.4L852.4 1177.4L852.6 1102.5L853.7 1102.5L853.9 1177.4L863.1 1177.4L864.9 1214.9L866.7 1224.2L867.8 1158.7L868.8 1158.7L869.3 1196.1L870.6 1196.1L871.4 1233.6L872.7 1233.6L876.6 1252.3L877.9 1289.8L879.8 1299.2L881.8 1289.8L885.8 1289.8L887.6 1308.5L892.3 1308.5L892.8 1327.3L893.6 1308.5L896.2 1308.5L896.2 1327.3L904.8 1327.3L905.3 1308.5L906.1 1308.5L906.6 1327.3L911.8 1327.3L911.8 1346L914.4 1346L914.4 1327.3L916.5 1327.3L917 1342.3L917.6 1327.3L920.4 1327.3L920.9 1342.3L921.5 1327.3L923 1327.3L923.6 1342.3L924.1 1327.3L926.2 1327.3L926.2 1346L928.8 1346L931.9 1327.3L932.7 1346L936.1 1346L936.1 1327.3L937.9 1327.3L937.9 1346L950.1 1346L950.1 1327.3L951.7 1327.3L951.7 1346L999.9 1346L999.9 1327.3L1001.8 1327.3L1001.8 1346L1016.1 1346L1016.1 1327.3L1017.9 1327.3L1017.9 1346L1022.6 1346L1022.6 1327.3L1024.7 1327.3L1026.5 1346" fill="#73aae8" stroke="#73aae8" stroke-width="1.6" stroke-linejoin="miter" stroke-miterlimit="6"/>
<path d="M716 990.1H1067.2V1346" fill="none" stroke="#111" stroke-width="2.6"/>
<g stroke="#4891e0" stroke-linecap="round"><path d="M912 1194.6H1067.2" stroke-width="6.6" stroke-linecap="butt"/><path d="M912 1175.6V1214 M1067.2 1175.6V1214" stroke-width="7.3"/></g>
<path d="M703.2 1346h12.8M708.1 1323.8h7.9M708.1 1301.5h7.9M708.1 1279.3h7.9M703.2 1257h12.8M708.1 1234.8h7.9M708.1 1212.5h7.9M708.1 1190.3h7.9M703.2 1168h12.8M708.1 1145.8h7.9M708.1 1123.6h7.9M708.1 1101.3h7.9M703.2 1079.1h12.8M708.1 1056.8h7.9M708.1 1034.6h7.9M708.1 1012.3h7.9M703.2 990.1h12.8M716 1346v12.5M742.2 1346v7.7M757.5 1346v7.7M768.4 1346v7.7M776.8 1346v7.7M783.7 1346v7.7M789.5 1346v7.7M794.6 1346v7.7M799 1346v7.7M803 1346v12.5M829.6 1346v7.7M845.2 1346v7.7M856.2 1346v7.7M864.8 1346v7.7M871.8 1346v7.7M877.7 1346v7.7M882.8 1346v7.7M887.4 1346v7.7M891.4 1346v12.5M918 1346v7.7M933.6 1346v7.7M944.6 1346v7.7M953.2 1346v7.7M960.2 1346v7.7M966.1 1346v7.7M971.2 1346v7.7M975.8 1346v7.7M979.8 1346v12.5M1006.1 1346v7.7M1021.5 1346v7.7M1032.4 1346v7.7M1040.9 1346v7.7M1047.8 1346v7.7M1053.7 1346v7.7M1058.7 1346v7.7M1063.2 1346v7.7M1067.2 1346v12.5" fill="none" stroke="#111" stroke-width="2.6"/>
<path d="M716 989.1V1346H1068.2" fill="none" stroke="#0a0a0a" stroke-width="4.2" stroke-linejoin="miter"/>
<text transform="translate(699 1352.8) scale(1.050 1)" font-size="24.7" text-anchor="end">0</text>
<text transform="translate(699 1263.8) scale(1.050 1)" font-size="24.7" text-anchor="end">5</text>
<text transform="translate(699 1174.9) scale(0.945 1)" font-size="24.7" text-anchor="end">10</text>
<text transform="translate(699 1085.9) scale(0.945 1)" font-size="24.7" text-anchor="end">14</text>
<text transform="translate(699 996.9) scale(0.945 1)" font-size="24.7" text-anchor="end">19</text>
<text transform="translate(716 1395.8) scale(0.985 1.110)" font-size="24.4" text-anchor="end">10</text>
<text transform="translate(715.8 1381.5) scale(0.985 1.110)" font-size="17.1">0</text>
<text transform="translate(803 1395.8) scale(0.985 1.110)" font-size="24.4" text-anchor="end">10</text>
<text transform="translate(802.8 1381.5) scale(0.985 1.110)" font-size="17.1">1</text>
<text transform="translate(891.4 1395.8) scale(0.985 1.110)" font-size="24.4" text-anchor="end">10</text>
<text transform="translate(891.2 1381.5) scale(0.985 1.110)" font-size="17.1">2</text>
<text transform="translate(979.8 1395.8) scale(0.985 1.110)" font-size="24.4" text-anchor="end">10</text>
<text transform="translate(979.6 1381.5) scale(0.985 1.110)" font-size="17.1">3</text>
<text transform="translate(1067.2 1395.8) scale(0.985 1.110)" font-size="24.4" text-anchor="end">10</text>
<text transform="translate(1067 1381.5) scale(0.985 1.110)" font-size="17.1">4</text>
<text transform="translate(891.4 1425.5) scale(1 1.07)" font-size="29" text-anchor="middle">FL4 INT LOG</text>
<text transform="translate(670 1167) rotate(-90) scale(1 1.140)" font-size="28.2" text-anchor="middle">Count</text>
<text transform="translate(919.7 1027.4) scale(1 1.09)" font-size="27.7">CD19</text>
<text transform="translate(919.7 1064) scale(1 1.09)" font-size="28">0.93%</text>
<text transform="translate(623.2 994.8) scale(0.995 1)" font-size="32.4" font-weight="bold" fill="#231f20">H</text>
</g>
<defs><clipPath id="mc"><rect x="1212.4" y="993.8" width="487" height="402.9"/></clipPath>
<filter id="grain" x="0" y="0" width="100%" height="100%" color-interpolation-filters="sRGB"><feTurbulence type="fractalNoise" baseFrequency="0.5" numOctaves="2" seed="7"/><feColorMatrix type="matrix" values="0 0 0 0 0.5  0 0 0 0 0.5  0 0 0 0 0.5  1.1 0 0 0 -0.33"/></filter>
<filter id="relief" filterUnits="userSpaceOnUse" x="1210.4" y="991.8" width="491" height="406.9" color-interpolation-filters="sRGB">
<feGaussianBlur in="SourceAlpha" stdDeviation="1.5" result="hm"/>
<feDiffuseLighting in="hm" surfaceScale="1.15" diffuseConstant="0.72" lighting-color="#fff"><feDistantLight azimuth="225" elevation="45"/></feDiffuseLighting></filter>
<filter id="sb" x="-5%" y="-5%" width="110%" height="110%"><feGaussianBlur stdDeviation="0.8"/></filter>
<filter id="sb2" x="-5%" y="-5%" width="110%" height="110%"><feGaussianBlur stdDeviation="1.8"/></filter><filter id="sb3" x="-5%" y="-5%" width="110%" height="110%"><feGaussianBlur stdDeviation="6"/></filter></defs>
<rect x="1212.4" y="993.8" width="487" height="402.9" fill="#7e7e7e"/>
<g clip-path="url(#mc)">
<g fill="none" stroke="#000" stroke-linecap="round" stroke-opacity="0.42" filter="url(#relief)">
<path d="M1333.6 1234.1q2.8 35 14.9 68M1407.1 1204.1q23.3 -47.6 70.1 -72.6M1658.7 1298.3q-2.7 36.8 7.5 72.2M1505.8 1217.9q9.3 36 45.5 44.7M1199.2 976.3q-4.2 50.8 26.1 91.8M1203.4 1038.9q1.1 53.6 40.3 90.3M1293.9 1014q43.7 7.5 84 26.2M1439.2 1330.1q-5.9 -31.3 5.7 -61M1462.2 1237.7q-1.6 28.1 12.8 52.3M1644 1066.7q46.7 37 101.2 13M1674.7 1300.2q11.1 40.5 -6.4 78.7M1234 1270.2q15.1 20.6 12.1 46M1193.6 1259.1q38.6 35.2 79.8 67.4M1433.4 1302.7q-14.9 -31.9 -8.7 -66.5M1492.1 1043.8q27.4 -39.1 69 -62.6M1435.2 1109.5q5.8 -38.7 3.1 -77.8M1240.6 961.4q14.3 25.8 33.8 47.9M1279.8 1134.8q47.3 7.4 69.7 49.6M1184.3 1321.4q35.8 22.3 57.1 58.6M1360.4 1137.9q23.3 -7.3 43.3 -21.3M1539.2 1323.1q21.6 43.5 17 91.9M1691.5 1304.6q-2.1 22.8 -5 45.6M1509.9 1220.6q12.3 32.2 7.9 66.3M1172.5 1310.9q44.1 8.3 64.5 48.3M1641.7 1261.5q-6.2 49 -14 97.8M1372.4 946.6q22.8 48.2 62.3 84M1383.9 1125.5q16.2 -27.4 37.5 -51M1376.6 997.8q31.6 34.8 52.1 77.2M1359.9 1422.5q21.7 -21.3 29.2 -50.8M1196.9 1076.4q17 33.4 25.5 69.8M1454.6 1126.4q12.9 -30.4 27 -60.2M1338 1289.2q23.2 36.2 17.3 78.8M1644.7 1252.3q-4.9 44.7 -6 89.7M1624.3 1362.9q9.4 38.8 7.8 78.6M1518.1 1201.7q-17 38.2 1.7 75.6M1321.8 1359.5q14.5 40.1 33.7 78.2M1305 1089.7q33.3 -4.6 58.1 -27.3M1557 1319.7q-16.3 47.4 -35.3 93.9M1326 1308q0.6 25.1 9.4 48.6M1241.3 1348.4q1.4 39.7 22.7 73.2M1197.6 1272.5q-3.3 47.8 10.9 93.5M1441.2 1152.6q11.5 20.8 25.6 39.8M1470.9 1419.2q-6.5 -43.9 -3.6 -88.2M1530.7 1101.4q34.2 13 54.8 43.2M1455.9 1130.7q27.9 -23.9 26.2 -60.5M1555.5 1104.2q37.5 35.2 75.8 69.4M1580.8 1371.8q4 27.1 5.4 54.5M1209 1217.3q28.9 17.9 36.7 50.9M1284.9 1088q36.3 -9 71.5 -21.3M1375.8 1165.4q37.9 -28.5 79.1 -51.9M1449.3 1070.2q25.7 -41.5 46.1 -85.9M1211.2 1236.2q0.5 50.5 33.4 88.9M1530.2 1058.5q25.9 50 81.8 57.5M1648.8 1257.4q25.1 -43.2 43.6 -89.6M1232.8 1075.8q-0.7 33.4 7.1 65.8M1225.4 1098q9.8 41 37.4 72.9M1515.4 1053.8q20.1 -29.6 41.2 -58.4M1581.3 1079.6q33.2 10.2 61.5 30.4M1576.7 1019.6q24.1 -37 55 -68.6M1677.7 1314.1q11.1 -35.7 10.6 -73.1M1339.9 1183.1q-1.7 35.6 10.2 69.2M1227.2 985.9q9.6 48.8 1.1 97.9M1365.5 1437.3q47.1 -25.5 69 -74.4M1262.6 995.3q46.3 -6.5 91.2 -19.4M1497.9 1161.4q6.4 26.5 23.7 47.7M1243.2 1196.1q40.1 29.7 53.9 77.7M1259.8 1092.4q7.8 22.6 24.4 39.8M1634.9 1321.4q-5.4 -51.2 14.7 -98.6M1623.8 1301.6q7.1 32.5 3.8 65.6M1203.7 1291.9q25.5 18.3 54.6 30.2M1385.7 1384.1q32.7 -36.7 70.6 -67.9M1630.3 1084.6q41.3 11.7 80.9 28.1M1674.7 1219.7q16.1 -19.4 21.2 -44.1M1418.1 976.9q9.4 44.8 36.7 81.5M1634.6 1223.4q1.8 -46.2 1 -92.3M1475.7 1137.6q11.6 22 31.2 37.5M1235.2 979.2q25.8 39.8 56.1 76.2M1504.9 1320.4q8.1 29.7 13.5 60.1M1630.8 1254.9q-9.2 -23 -5.5 -47.6M1286.2 1130.1q34.8 27.9 35 72.4M1287 1021.9q45.3 -22.6 93.8 -36.9M1261.8 1081.8q45.4 -11.2 90.6 -22.8M1614.3 1050.7q29.9 -0.9 59.7 -3.6M1510 1328.9q11.8 39.7 7.9 81M1337.9 1263.7q-8.7 46.8 22.7 82.6M1637.3 1105.2q19.5 23.3 34.4 49.7M1497.9 1090.3q31.3 26.2 64.9 49.6M1281.2 1036.9q42.4 -16.5 87.7 -21.5M1294.1 1128.4q48.3 0.5 93.3 18.2M1679.8 1273.9q15 -37.4 39.2 -69.7M1335.6 1172.2q28.9 -30.4 62 -56M1640.6 1254.9q-2 33.5 -0.2 67M1414.1 1381.6q5 -40.5 16.7 -79.6M1471.7 1243.2q14 26.2 22.1 54.9M1259.8 1138.9q17 28.9 10.5 61.7M1467.4 1165.1q24.7 39.1 52.7 75.9M1232.5 1055.1q9.2 27.1 26.3 50.1M1235.1 1165.4q-4.3 42.1 15.5 79.5M1492.9 1161.6q29.5 21.9 52.3 50.7M1499.9 1079.2q50.2 -20.6 103.1 -8.6M1500.4 1185.5q20.4 27.6 28.9 60.8M1414.3 1345q-0.3 -51.7 14.6 -101.2M1681.8 1221.9q18.3 -28.7 37.1 -57.1M1221.6 958.6q31.6 27.4 49.8 65.1M1575.8 1134q34.7 26.5 47 68.4M1470.9 1224.2q11.1 41.3 19 83.4M1545.4 1141q15 23.1 27.5 47.6M1439.3 1151.8q29.5 -6.9 44.7 -33.1M1551.9 1078.1q9.7 -23.3 23.2 -44.7M1602.2 991q35.3 -7.3 71.3 -9.3M1504.8 1149.3q15.3 33 41.8 57.9M1612.7 1056.3q29 -26.3 61.3 -48.6M1583.7 1202.3q1.7 45.9 40.8 69.9M1322.8 1177q19.2 37.3 34.2 76.6M1428.7 1134.4q25.1 -25.8 41.8 -57.7M1415.6 1274.8q12.9 -36.5 1.5 -73.4M1603.5 1285.2q-23.2 40.3 4.5 77.7M1340 1119.9q25.1 -36.5 64.5 -56.9M1316.9 1315.4q-0.3 39.6 30.5 64.4M1410.4 1267.1q-6.4 -38.8 -9.3 -78.1M1672.9 1318q19 -15.7 22.3 -40.2M1215.3 1305.8q12.5 24.9 27.7 48.2M1448.8 1363q5.1 -22.3 9.4 -44.8M1193.6 1095.5q35.2 22.9 71.9 43.2M1624.8 1261.3q5.6 -29.7 21.8 -55.2M1356.9 1200.5q39.1 -2 68.6 -27.8M1282.8 1157.6q27.3 30.3 42.3 68.2M1232.3 1046.1q6.1 44.2 33.1 79.7M1282.3 1236.4q43.3 31.4 70.6 77.3M1366.9 1432.6q6.7 -27.1 9.1 -54.9M1238.3 1232.8q6.2 24.3 14.3 48M1464.5 1100.2q26.6 -28.2 25.8 -67M1271.2 1235.8q6.3 35.3 11.8 70.7M1477.3 1251.1q8.7 30.6 -4 59.8M1572.3 1039q28 -6.1 51.3 -22.7M1456.4 1139.6q27.4 -38.4 61.1 -71.4M1671.4 1208.2q0.9 -35.8 20 -66M1261.2 1230.6q9.7 31 8.3 63.5M1463.1 1156.6q11.3 -20.6 11.1 -44M1448 1170.2q-10.8 29.6 -2.9 60.1M1390.1 1128.2q11 -42.1 33.5 -79.2M1408.9 1351.3q7.8 -36.5 18.1 -72.3M1286.1 1113.3q44.2 -7.5 89 -7.1M1273.1 1225.1q5.5 25.9 16.7 49.9M1207.4 1345.9q8.6 21.2 15.1 43.2M1571 1239.8q0.7 24.7 7 48.5M1304.4 1279q22.1 31.3 32.3 68.3M1599.4 1216.2q9.4 22.7 17.7 45.8M1270.3 1174.3q32.1 27.2 54.7 62.6M1469.8 1223.1q10.3 38.2 37.1 67.4M1649.4 1357.6q15.1 43.4 -1.2 86.4M1462.8 1111.1q24.4 -18.5 39.3 -45.2M1495.7 1191.9q21 21.5 34.4 48.4M1353.8 1246.7q6.9 31.5 5 63.6M1399.2 1199.3q20.1 -43 60.5 -68M1615.3 1254.8q-1.1 35.9 -5.5 71.6M1503 1090.9q35.3 19.2 59.3 51.3M1429.4 1142.5q36.5 -4.2 73 -9.4M1638.6 1038.4q47.3 -13.7 92.2 6.7M1312.7 991.6q31.5 -1.6 62.9 0.6M1669.4 1295q-1.7 -30 18 -52.7M1460 1070.7q7.3 -47.3 -3.6 -94M1344.3 1241.8q1.3 24.5 9.5 47.6M1480.5 1183.9q28.1 43.9 32.9 95.7M1553.7 1196.7q18 25.8 30 54.9M1484.1 1213.5q0.3 24 -4.2 47.6M1666.1 1220q30.1 -32.6 30.1 -77M1630.7 1253.1q14.8 -34.8 10 -72.3M1377.5 1255.2q7.2 -25.3 6.7 -51.7M1202 1158.5q25.7 44.1 28.3 95M1499.3 1231.4q-3.9 36.6 23.1 61.7M1607.6 1071.8q25 12.7 46.6 30.5M1546.6 1068.2q29.6 -14.5 53.4 -37.2M1363.5 1011.1q19.8 42 44.6 81.3M1401.8 1329.6q-7.3 -50.3 -40.1 -89.2M1571.2 1306.4q-1.6 36.3 -22.2 66.2M1493.3 1053q16.2 -38.4 19.5 -80M1195.8 1267.2q6.4 36.7 20.8 71.1M1623.1 1280.1q14.4 -27.1 12.4 -57.8M1498.2 1133.2q18.9 24.2 34.1 50.9M1359.2 1427.3q6 -38.5 0.8 -77.1M1546.9 1337.6q-9.4 43.4 -9.7 87.9M1451.3 1252.2q4.4 23.7 4.4 47.8M1269.4 1100.2q20.7 16.2 45.8 24.2M1208.9 1181.2q10.2 23.5 13.4 48.8M1544.9 1033.9q30.3 -10.7 53.5 -33M1587.1 1178.7q13.9 18.7 26.6 38.3M1598.8 1119.1q22.7 27.5 39.5 58.9M1441.9 1086.7q43.6 -28.9 68.2 -75M1699.9 1249.6q-2 -38.7 19.1 -71.1M1273.7 1237.6q13.6 19.7 31.7 35.4M1320.5 1034.2q30.2 -11.1 61.9 -5.3M1588.3 1183.9q5.6 22.5 20.6 40.1M1234.4 960.5q3.2 39 -2.7 77.6M1671 1246.5q5 -35.4 17 -69.1M1478.9 1131q38 19.7 66.7 51.5M1289.8 1174.8q16 18.4 36.1 32.1M1308.9 1236.7q4.7 53.6 32.9 99.4M1507.4 1260.3q25.3 31.3 8.3 67.7M1388.1 1329.8q16.1 -26.1 29.8 -53.5M1485.5 1250.4q8.6 43.4 -1.6 86.5M1239.1 1225.7q8.7 36.6 6.9 74.1M1425.1 1129.2q32.2 34 72.7 57.5M1471.2 1041.5q-19.7 -39.2 -14.6 -82.8M1279.3 1353.1q5.9 37 29.1 66.5M1263.4 1091.1q22.3 8.7 46.1 11.2M1517.3 1232.7q-7 40.3 24.9 65.9M1420.7 1418.9q3.8 -45.8 26.1 -85.9M1548.4 1080.1q23.7 38.9 58.6 68.1M1488.2 1075.8q12.3 -45.3 37.2 -85.1" stroke-width="11"/>
<path d="M1652.2 1078.4q27 -27.1 45 -60.8M1365.1 1254.2q-3.4 41.2 -8.1 82.3M1241.5 1370.6q24.8 32.1 50.3 63.8M1535 1349q8.4 32.7 -6.9 62.8M1682.7 1017.7q21.7 -12.9 47.1 -12.9M1596.1 1159q17.3 15.2 31 33.7M1339.8 1217.1q-0.9 39.5 8.8 77.8M1430.3 1118.6q6.4 -41.9 41.9 -65.1M1479.8 1339.3q4.7 27.4 2.1 55.1M1229.3 966.8q11.1 42 48 65.1M1237.2 1036.6q17.5 31.5 49.4 48.1M1627 1026.4q32.4 -12.6 65.2 -24.4M1643.9 1320.7q12.7 -28.2 5.8 -58.4M1195.9 1106.7q7.9 25.1 28.6 41.4M1501.9 1241.6q2.2 36.8 12.6 72.1M1425.6 1070q25.3 -26.5 26.6 -63.2M1351.6 1086.6q31.9 -20.3 64.2 -39.7M1362.4 1141.5q24.6 -24.8 45.4 -52.9M1410.3 1361.2q11.8 -29.5 14.9 -61.1M1654 1109q29.4 16.9 51.6 42.5M1335.2 1318.7q-4 39.5 23.3 68.4M1426.6 1412.1q15 -31.8 12.9 -66.8M1419.4 983.2q7.7 28.7 20.7 55.5M1663.6 1099.2q25.6 0.8 45.4 16.9M1406.3 1011q8 28.1 9.5 57.3M1360.1 1359.4q8 -32.6 30.9 -57.2M1243 1336.9q6.7 27.2 19.6 52M1540.8 1233.5q14 45.3 56.4 66.5M1201.1 1224.2q11.9 27.9 26.2 54.6M1338.2 1230.5q39 27.4 48.9 74M1696.8 1186.6q-2.1 -38.4 17.6 -71.4M1680.5 1034.3q28.9 -20.7 55.3 -44.6M1303.9 1382.9q4.7 21.4 18.1 38.9M1390.6 1330.8q14.3 -32.4 23.8 -66.6M1510.7 1260.8q-8.5 40.2 15.2 73.6M1561.5 1057q34.6 -22.3 68.8 -45.2M1682.1 1330.4q-1.9 32.2 -1.7 64.5M1464.3 1061.1q2.7 -31.9 17.3 -60.5M1255.8 1193.9q7.5 30.8 19.4 60.1M1347.7 1294q-0.9 19.5 7.4 37.3M1280.2 1150.1q34.9 21.6 65.1 49.5M1248.3 1312.1q-9.4 34.8 14 62.3M1397.5 1269.4q-1.5 -31.8 22 -53.4M1199.1 1012.8q21.5 33 17.4 72.1M1272.4 1184.4q8.9 24.2 18.8 48M1685.1 1283.8q5.5 -28.5 14.3 -56.1M1238.3 1067.8q-5.3 27.6 7.7 52.5M1460.3 1228.8q1.9 35.4 -20.1 63.1M1457.1 1403.9q4 -37.9 -1.5 -75.6M1306 1140.6q27.5 1.9 54.7 -2.5M1402.3 1180.2q19.1 -3.1 36.7 -11.4M1462.4 1196.6q5.7 19.5 15.2 37.5M1368.3 1147.4q23.2 -30.2 45.3 -61.3M1441.6 971.8q2.4 18.6 15.8 31.7M1495.8 1363.5q0.9 28.4 14.8 53.3M1342.9 1212.7q15.4 27.3 24.5 57.4M1464.7 1278.2q-1.4 24.4 -1.1 48.8M1320.9 1298.5q13.8 25.8 36.9 43.6M1354.9 1231.7q-21.6 37 -15.2 79.3M1338.1 1135.2q24.1 -29 61.3 -34.4M1224.1 1274.8q3.9 32.6 14.2 63.8M1648.9 1283.9q26 -28.2 47.3 -60M1487 1021.1q0.7 -37.3 18.8 -69.9M1705.4 1342.2q-9.9 28.5 -8.6 58.6M1565.8 1132.7q16.7 12.4 35.3 21.8M1365.8 1254.1q-3.3 40.4 -2.4 80.8M1527.7 1192.7q10.7 23.8 24.9 45.7M1674.8 1247.4q9.1 -27.5 22.4 -53.3M1481 1309q-16.9 27.5 -13.4 59.5M1192.6 1132q17.1 40.9 51.5 69M1446.4 1256q1.1 21.1 12.6 38.8M1554.7 1066.6q23 -14.4 48.1 -24.7M1262.3 1115.7q25.7 12.4 46.3 32.1M1485 1310.5q1.3 31.6 17.2 59M1678.5 1109.7q23.2 9.3 42.2 25.6M1550.7 1193.4q19.1 35.5 44.1 67.2M1397.6 1319.5q0.7 -33.2 -7.5 -65.3M1688.1 1346.4q7.3 22.8 17.9 44.2M1570.8 1039.8q18.9 -6.9 26.8 -25.4M1541.6 1208.3q16 14.7 29.9 31.4M1684.2 1268.1q4.3 39 0.6 78.1M1295.7 1079.4q16.7 -12.6 35 -22.6M1586 1193.9q15.9 34.9 8.4 72.4M1366.7 1421.7q13.3 -39.7 40.5 -71.5M1541.5 1082.6q28.8 14.6 58.9 26.3M1301.6 1117.2q30.6 -5.7 58.7 -18.9M1303.1 1122.1q42.6 -7.1 75.1 -35.4M1272.5 1316.8q19 27.6 22.1 61M1545.6 1184q40.7 12.7 57.8 51.8M1295 1007.3q39.1 -3.9 78.3 -1M1285.1 1150.4q28.6 34.9 71.2 49.8M1448.2 1180.8q4.5 43.8 21.1 84.7M1235.7 1345.8q25.4 34 45.3 71.5M1256.9 1197.1q-15.5 24.5 -5.6 51.7M1629 1019.5q14.8 -10.9 31.1 -19.4M1482.8 1361.4q25.5 34.1 18.1 76M1465.5 1048.4q0.3 -32 2.3 -63.9M1360.8 1214.6q28.2 -12.3 42.3 -39.6M1458.6 1060.2q-8.7 -43.4 -19.6 -86.3M1477.1 1076.3q17.3 -33.4 20 -70.9M1689.3 1356.9q-4.2 41.5 -21.7 79.3M1650.6 1017.9q26.4 -25.1 51.6 -51.2M1505.3 1212.3q9 30.5 15.5 61.6M1645.9 1005.9q45.7 4.8 85.9 -17.2M1208 966.2q16.6 29 13.2 62.2M1493.7 1284.9q3 19.1 5.7 38.3M1605.9 1369.6q4.9 26.9 -1.7 53.4M1355 965.8q27.7 20 46.4 48.7M1458.6 1147.1q5.5 -24 21.1 -43M1619 1061.4q31 1.2 61 -6.7M1580.2 1109.6q14.3 21.8 39.1 30M1454.6 1111.7q10.7 -21.5 25.8 -40.2M1322.3 1144.5q25.3 -33 65.9 -42.7M1471 1039.9q1.2 -23.8 10.5 -45.8M1393.6 1440.5q25.1 -35.1 37.7 -76.3M1694.8 1185.3q21.8 -34.7 19.5 -75.6M1369.9 1351.7q8.5 -33 7.9 -67.2M1560 1159.8q19.3 24.6 36.8 50.5M1384.1 991.1q12.6 19.5 22.4 40.5M1648.5 1346.9q3.1 43.2 -1.8 86.2M1267.1 1266q8.2 19.6 14.3 40M1542.4 1327.3q21.1 27.5 7.8 59.4M1379.4 1019.1q3 22.1 23.5 31.1M1281.1 1113.9q13.9 17.8 30 33.6M1241.3 1176.1q25.7 28.8 46.7 61.1M1466.8 1403.8q4.3 -19.2 5.3 -38.9M1361.9 1283.7q0.2 22.1 -5.2 43.5M1363.7 1180.4q-11.7 46.4 12.5 87.6M1438.1 1216.3q2.4 23.2 -5.1 45.2M1685.8 1369.2q-6.5 27.8 -9.6 56.2M1223.4 1030q-2.5 24.6 10.7 45.4M1200.4 1043.3q20.9 30.2 23.9 66.8M1430.8 1078.1q7.8 -17 14.8 -34.2M1316 1216.2q12.7 33 37.1 58.6M1336.4 1145.8q24.4 -16.8 53.5 -22.3M1457 1164.3q12.7 23.1 38.5 28.3M1675.2 1313.1q4.7 31.3 3.4 62.9M1681.7 1092.4q15.3 20.1 39.7 26.8M1487.5 1067.5q9.7 -17.7 21.5 -34.1M1512.4 1111.6q40.4 15.1 76.9 38M1444 1128.1q19 16.1 38.2 32M1484.6 1221.2q8.2 30.1 17.9 59.7M1449.9 1225.5q-2.1 29.6 -6.4 59M1227.3 1287q2.2 43.2 35.9 70.2M1312.4 1339q19.2 26.5 38.1 53.3M1677 1231.3q5.9 -40.2 10 -80.6M1431.4 1159.6q30.9 -26.8 52.1 -61.8M1616.9 1358.9q-0.1 40.1 -14.3 77.5M1560.7 1286.4q8.2 39.5 5 79.7M1327.9 1101q28 -14.7 56.6 -28M1379.1 1361.7q-17.3 -42.1 -5.4 -86.1M1505.8 1049q19.4 -40.3 46.5 -75.9M1613.7 1091.9q22.5 33.7 60.9 46.6M1693.2 1264.3q13.3 -14.7 17.2 -34.1M1643 1275.7q15.1 33.5 -1.4 66.3M1680.3 1281.3q0.8 -27.2 0.9 -54.4M1202.3 1018.4q17.3 31.5 23.4 67M1584.1 1255.2q11.8 22 22.7 44.6M1281.4 1236.5q27.2 12.8 32 42.4M1662.8 1336.1q-9.4 38.7 19.2 66.3M1686.1 1279.6q-1 32.3 8.7 63.1M1454.4 968.6q2.2 31.2 -9.3 60.3M1558 1079.2q18.8 16.8 43.7 20.4M1344.7 991.9q22.1 23.2 47.4 43M1682.6 1278.2q3.9 -23.8 1.8 -47.9M1425 1421.2q23.3 -28.6 35.3 -63.5M1558.5 1189.2q43.4 15.9 61 58.7M1323.5 1190.8q6.4 21.8 12.5 43.7M1569.1 1020.3q24.7 -7.1 43.4 -24.9M1552.2 1259.2q3.3 37.5 30.2 63.8M1538.5 1155.5q20.8 22.4 43.7 42.7M1684.3 1334.7q1.3 24.9 4.2 49.6M1535.9 1141.3q13.6 30.9 37.3 55.1M1551.9 1133.9q33.7 12.2 55.6 40.7M1215.1 1255.7q9.1 29.2 21.6 57.1M1200.6 997q7.3 19.4 20.7 35.2M1675.6 1320.1q9.7 24.3 20.8 48.1M1664.1 1052.7q40 -12.3 74.1 -36.5M1436.6 1151.3q22 13.2 47.6 12.2M1592.2 1256q9.4 28.1 22.8 54.5M1419.4 1139.8q8.8 -24.7 25.4 -45M1569.1 1159.8q23.7 18.5 50.1 33M1370.7 1381.3q21.2 -19.2 44.7 -35.5M1528.4 1255.9q-1 46.5 28.5 82.5M1520.6 1247.7q11.7 20.9 28.6 37.8M1582.2 1176.3q11.8 35.2 21.6 70.9M1196.7 1128.5q20 28.7 28.4 62.6M1286.3 1120.3q28.3 31.8 56.3 64M1229.8 1202.2q14.5 26.9 5.8 56.2M1496.4 1252q18.4 30.9 10.6 66M1303 1246.4q30.9 32.6 53.8 71.2M1245.1 1279.2q14.5 43.8 52.9 69.4M1328.3 1206q14.2 17 26.6 35.3M1512.5 1322.6q13.6 37.9 14 78.1M1404.8 1014.9q15.5 28.5 21.1 60.6M1688 1259q14.7 -35.5 33.9 -68.8M1217 1078.2q34.8 24.6 47.2 65.3M1385.7 1115q13.1 -13.3 19 -31M1387.1 1302.9q12 -40.3 10.3 -82.4M1657 1082.8q18 8.6 37.5 13.1M1598.3 1260.3q-3.3 37.9 13.4 72M1201.4 1296.6q19.5 31.6 30.5 67.1M1534.7 1105.5q24.7 18.3 44.5 41.8M1329.8 1183.8q27.8 -22.3 63.3 -26.3M1681.5 1074.3q20 11 42.5 7.9M1655.7 1109.3q33.8 22.2 71.2 37.6M1658.1 1306.1q15.5 -34.3 16.8 -71.9M1301.6 1331.6q13.5 24.2 20.7 51M1315.3 1268.7q1 19.3 6.2 37.9M1628.7 1232.3q-0.9 -18.7 0.2 -37.4M1377.7 1419.1q-1.6 -19.9 7.4 -37.7M1242.9 970.3q14.3 20.8 22.3 44.7M1529.5 1255q5.5 25.6 22.1 45.9M1467.3 1118.1q17.5 19 39.5 32.4M1310.6 997.1q26 0.8 48.1 -12.8M1241.8 1322.6q16.8 20 35.7 38M1643.2 1267.3q17.6 33.2 17.8 70.9M1427.1 1149.6q27.4 14.2 58.1 17.8M1465.2 1186.2q16.7 20.4 10.6 46.1M1209.1 1076.9q1.7 34.6 9.2 68.5M1311 1067.9q35.1 -15.3 72.3 -6.4M1539.3 1269q11.8 30.6 27.5 59.3M1652.3 1383.8q0.8 20 -7.1 38.4M1311.5 1374q17.7 19.2 32.1 40.9M1628.1 1245.7q11 -43.4 22.6 -86.7M1197.8 1029.4q7.7 19.6 22.9 34.1M1474.6 1349.8q7.9 33.3 25.8 62.4M1497.5 1093.1q4.4 -36 0.4 -72.1M1286.2 1152q27.3 19.3 52.2 41.7M1509.9 1011q19.5 -15.2 25.5 -39.3M1217.1 1281.7q9.5 35.8 44.3 48.6M1240.1 1218.3q-1.6 40.8 27.4 69.6M1566.7 1014.9q20.8 -5.1 40.4 -13.9M1261.4 1003.3q44.9 3.2 86.6 -13.8M1335.4 1111.6q27.4 -22.2 59.8 -36.3M1518.8 1351.7q-6.8 27.3 -8.9 55.3M1590.4 1080.9q31 5.2 59.2 19.2M1657.8 1079.6q32.6 24.5 71.2 11.4M1220.3 1025q8 40.7 31 75.3M1552.9 1370.5q12.8 26.3 9.2 55.3M1554.1 1167.1q9.4 26.6 24 50.8M1453.2 1025.2q20.8 -18.6 36.7 -41.5M1348.4 1053.5q19.3 -13.2 42.7 -14M1447.4 1172.6q15.5 19.8 17.2 45M1296.2 1272q-1.7 18.8 4.8 36.5M1280.9 1147.9q26.9 28.8 35.1 67.4M1590.1 1267.8q-4.9 21.2 -3.7 43M1257 996q27.4 6.1 55.5 7.3M1236.7 961.9q20.7 39 19.2 83.2M1213.4 1012.4q5 20.2 15.8 38M1291.4 1225q8.9 31.2 25.4 59.3M1376.1 1024.4q19.4 20.7 33.4 45.4M1438.2 974.3q7.4 25.8 9.3 52.6M1186.4 1334.3q23.8 22.4 41.4 49.9M1656.3 1055.7q26.7 -10.3 45.2 -32.1M1563.8 1342.5q-4.3 25.2 -6 50.7M1576.6 1293.7q17.4 18.6 12.3 43.5M1379.2 1382.7q18.2 -40.9 45.3 -76.5M1567.8 1307.3q-0.6 45.2 20.1 85.4M1628.4 1256q13.2 -44.8 58.4 -56.3M1537.3 1357q-8.7 32.5 -4.8 65.8M1263 1289.5q3 25.2 12.2 48.9M1363.5 1199.4q-7.4 41.6 5.2 82M1680.3 1091.6q21.6 9.5 45 6.5M1615.7 1071.3q16.9 -4.8 34.4 -6.9M1184.3 943.9q11.7 43.9 37.2 81.4M1510.1 1037.9q11.1 -29.1 31.2 -53M1572.3 1320.1q-0.9 26.4 -7 52M1380 1143.4q16.7 -33.7 47.9 -54.7M1266.8 1282.8q13.7 31.6 25.2 64.1M1249.7 1012.7q36 -11.2 69.8 -27.9M1490.4 1249q2.5 20.1 4.3 40.2M1212.6 1146.5q18.2 29 15.8 63.2M1629 1124.6q3.8 18.3 15 33.2M1287.3 1003.1q31.9 -4.4 62.8 -13.5M1261.4 1219.1q9.9 18.8 12 39.9M1539.9 1258.5q9.5 32.8 5.5 66.8M1631.4 1308q7.4 -38.1 17.1 -75.7M1511.9 1159.9q11 22.2 22.7 44M1494.9 1182.2q12.6 17 24.9 34.1M1513.1 1246.9q-2.4 25.4 -6 50.6M1418 1237.6q6.3 -43.4 30.8 -79.9M1411.5 1178.7q37 -25.6 72.5 -53.2M1221.3 1131.7q0.9 21.9 9.2 42.3M1255 1144q27.6 13.2 46 37.6M1335.1 1145q16.3 -7.4 33.8 -11.2M1639.1 1228.2q16.2 -38.9 24.7 -80.2M1560.4 1031.3q18.8 -23.5 43.6 -40.5M1497.7 1023.5q9.9 -19.1 22.9 -36.3M1568.8 1038.5q29.9 -6.2 58.4 -17.2M1656.6 1284.2q0 34.2 4.8 68M1417.8 1137.7q21 -28.4 46.3 -53M1232.9 1349q9.4 24.7 13.5 50.9M1568.7 1334.5q2.8 31.3 1.5 62.7M1272.4 1190.5q4.5 24.2 1.8 48.7M1458.9 1148.6q33.8 -22.5 46.6 -61M1350.2 1181.3q15.7 -28.1 45.8 -39.5M1252.9 994.6q-2.2 33.4 18.9 59.4M1493.5 1111.7q32.8 30.2 71.4 52.5M1497.1 1070.3q2.3 -35.9 24.6 -64.2M1590.9 1212.5q14.6 27.8 3.8 57.2M1501.4 1123.1q27.4 22.7 59.5 38.1M1349.5 1150q25.5 -28.5 63.3 -34.7M1614.5 1126.1q18.6 18.8 31.2 42M1243.6 1295.4q12.4 25.2 19.7 52.2M1248.3 1029.4q19 9.4 26.8 29.2M1322.3 1279.2q-3.2 30.1 18.5 51.2M1435.6 1093.3q12.7 -22.6 13.6 -48.4M1557.1 1018.4q7.7 -26.8 29.8 -43.7M1265.4 1033.7q33.9 7.6 68.1 1.7M1200.8 1159.5q11.2 14.9 18.5 32M1380.3 1157.3q34.6 -25.4 71 -48M1634.1 1244.8q14 -15.5 16.8 -36.3M1475.5 1044.6q12.1 -18.4 18.8 -39.3M1681.4 1258.2q13.1 -38.6 47.9 -59.9M1516.6 1166.4q19.3 12.8 26.3 34.9M1437.4 1144.9q34.3 12.5 67.5 27.5M1489.3 1296q3.9 21.2 3.9 42.8M1220 1022.8q7.8 28.6 12.6 57.8M1436.3 1195.9q-8.9 27.4 4 53.1M1634.1 1303.8q-3 19.8 -6 39.7M1621.7 1030.6q36 -5.6 57.8 -34.9M1516.5 1140.1q24.4 17.8 48 36.7M1325.7 1247.7q5.4 22.4 14.3 43.6M1488.1 1192.4q-16 37.2 -31.1 74.7M1394.1 1028.6q14 21.9 1.7 44.8M1586.5 1308.9q0.5 20.8 -1.5 41.6M1256.3 1073.8q31.9 -1.3 59 15.6M1245.8 1102.2q10.6 38 42.5 61.3M1575.4 1150q19.1 20.1 40.9 37.3M1433.8 1306.7q-7.5 -32.9 -1.3 -66.2M1258.8 1009.7q18.1 -4.3 34.2 -13.6M1240.5 1145.7q5.2 17.8 4.5 36.4M1335.5 1159.3q29.8 -16.3 55 -39.1M1618.1 1130.2q8.2 16 19.4 30.1M1571 1077.7q21 -4.4 38.9 7.4M1274.6 1106.7q27.7 1.2 47.2 20.9M1421.3 1156.5q11.9 -21.7 20.4 -45M1592.7 1334.8q34.3 30.6 41.3 76.1M1281 1383.9q0.3 22.5 16.4 38.3M1332.9 1173.7q22 -10 45.8 -5.9M1652.5 1325q5.3 24.8 10.3 49.7M1311.1 1155q40.3 1.4 79.2 11.9M1227.5 1066.6q15.6 18.6 22.1 42M1218.8 981.5q11.8 26.3 31.2 47.7M1469.6 1125.4q20 -17.8 38.5 -37.1M1430.9 1158.7q21.8 -13.6 41.3 -30.4M1335.6 1029.8q17.7 3.5 35.7 5.2M1633.2 1125.6q13.7 12 29.6 21.1M1236 1295.7q19.8 18.5 35.7 40.4M1563.5 1159.4q36.1 28.5 39.5 74.3M1549.1 1243.1q19.5 27.2 42.7 51.4M1468.3 1292q2.7 38.2 0.8 76.4M1505.7 1207.7q10.3 28.8 18.2 58.4M1378.9 1401.3q18.2 -12.7 27.7 -32.8M1560.6 1156.4q31 29.3 48 68.4M1188.7 1044q34.3 26.4 34.5 69.7M1323.2 1022.4q17 -11.4 37.3 -8.7M1663.4 1230.5q14.3 -22.7 25.9 -46.9M1243 1331.1q13.7 26.5 24.6 54.2" stroke-width="7"/>
<path d="M1426.4 1241.3q2.8 -21.4 10.7 -41.5M1495.5 1089.3q4 -27.6 9.3 -54.9M1244.1 1087.2q0.2 26.3 12.1 49.8M1218 1376q7.4 22.7 11.3 46.3M1268.8 994.9q13.4 -4.9 26.9 -9.5M1298.8 1008.8q26.9 -10.7 52.5 -24.5M1457.6 1235.9q8 18.6 16.1 37.3M1345.9 1379.9q-2.1 25.8 -4.9 51.6M1338.9 1095q24.6 -12 46.6 -28.2M1401.6 1370.6q15.2 -27.3 7.7 -57.6M1195.9 1041.2q11.3 30.3 13.6 62.7M1392.9 1002.9q14.5 8.4 21.9 23.5M1243.9 1112.1q3.8 12.1 5.4 24.7M1313.4 1025.4q13.8 3.3 27.9 2.2M1478.2 1162.6q4 13.2 15.5 20.8M1521.1 1047.2q8.8 -13.5 15.3 -28.2M1691.2 1309.2q-3.2 16 7 28.6M1387.7 1373.9q12.1 -30 29.1 -57.6M1294.3 1096.7q15.5 -7.1 32.5 -7.4M1228.3 1001.3q13.1 19.6 22.6 41.3M1370.1 1185.3q20 -11.3 41.4 -19.7M1613.5 1058.4q27.1 15 56.5 5.5M1315.4 1069q10.7 -12.7 27.1 -10M1680.2 1345.2q5.7 11.1 7.8 23.4M1214.4 1377.1q2.4 16.7 15.2 27.7M1617.8 1209.9q-1.5 26.4 4.5 52.2M1220.1 1063.9q20 13.5 34.4 32.9M1340.3 1356.3q3.5 15.7 8.4 31M1424.9 986.8q-1.2 23.3 6.9 45.2M1264.4 1112.6q15.1 22.3 9.5 48.6M1547.6 1222q4.8 9.2 10.6 17.9M1660.7 1304.4q2.9 -24.1 6.3 -48.2M1450.5 1303.9q5.7 -14.1 -7.1 -22.3M1483 1269.9q2.1 26.4 -7.5 51.1M1597 1341.5q-0.9 31.5 15.3 58.6M1641.7 1183q-8.2 -23.9 4.7 -45.5M1508.9 1139.8q11.3 4 20.7 11.3M1529.9 1385.4q1.6 19.3 -6.6 36.9M1565.6 1222.3q8.3 8.8 18.9 14.4M1573.3 1008.2q7.5 -13.4 19 -23.7M1543.2 1185.6q16.3 3.7 26.6 16.9M1201 1099.2q8.8 10.8 14.2 23.7M1665.6 1279.8q-1 -17.6 -8.1 -33.8M1520.9 1091.6q23.5 -20.4 38.2 -47.7M1642.7 1134.8q7.2 11 12 23.2M1446.1 1368.1q-1.3 -32.8 16 -60.7M1329.4 1061.8q13.7 -5.7 26.6 -13M1416.2 1277q-3.6 -28.6 -7.8 -57.2M1690.8 1203.2q10.2 -27.8 18.9 -56.2M1208.7 1259.9q16.8 22.3 29.4 47.2M1200.7 1015q11 26.5 22.9 52.6M1302.7 1043.7q20.1 1.6 40.1 -0.7M1518 1235.7q18 23 7.5 50.2M1291.4 1168q11.6 17.1 24.2 33.4M1540.4 1068.5q26 -3.7 48.2 -17.9M1462.8 1216q10.1 26.8 6.9 55.2M1649.2 1023.1q12.3 -4.4 25.4 -4.7M1435.9 1225.8q-0.8 23 -7.2 45M1651 1296.3q-0.6 24.8 -5.6 49M1297.1 1264.6q16.8 21.6 18.3 49M1311.8 1342.4q0.5 22.1 -2.5 44.1M1592.6 1105q14.3 11.5 21.5 28.5M1229.5 1155.4q16.7 12.9 29.7 29.6M1214.3 1312.3q0.2 14.1 5 27.3M1366.3 1337.8q8.1 -20.2 11.8 -41.6M1564.1 1318.6q16.2 17.6 10.4 40.9M1668.6 1027q17 -2.4 30.1 -13.6M1554.2 1239.9q18.6 12.9 35.4 28.1M1346.4 1149.3q12.3 -10.2 28.1 -8.5M1628.3 1379.9q6.1 13.2 10.9 26.9M1457.9 1169.2q17.1 26.8 32.3 54.8M1447.8 1139.7q20.1 8.7 32.4 26.9M1535.4 1038q15.7 -27.4 34.6 -52.7M1651.6 1092.3q18.9 5.8 38 10.8M1612.2 1350.8q3.4 13.9 7.6 27.6M1517.2 1364.7q-4.7 9.9 -3.1 20.8M1283.8 1085.7q15.9 -9.1 34.1 -11.5M1506.8 1047.2q7.5 -20.3 19.7 -38.2M1313.6 1076.9q15.4 -10.2 31.7 -18.9M1400.7 1229.1q14.2 -19.9 22.5 -42.9M1514.7 1180.8q18.5 24 22.7 54M1315.4 1280.7q12.8 14 9.9 32.8M1353.1 1402.6q33.1 -21 18 -57.2M1261.9 1076.2q10.1 7.2 16.9 17.6M1619.3 1143.7q7.2 17.8 10 36.8M1527.2 1011.8q29.7 -12.7 45.2 -41M1677.9 1047.2q15.3 -14.9 31 -29.3M1539.8 1067.3q10.4 -3 20.5 -7M1474.5 1189.6q8.3 11.5 15.2 23.9M1305.3 1327q0.9 12.1 0.9 24.3M1220.7 1374.8q12 12.7 26.2 22.8M1441.1 1211.8q-0.6 -10.4 -4 -20.2M1558.4 1314.2q-7 26.5 -1.2 53.3M1404.2 1076q6.1 -8.8 7.4 -19.3M1650.2 1299.2q15.9 21.3 10.1 47.3M1420.9 1262.1q-13.9 -24.4 -26.9 -49.4M1322.1 1343.2q22.1 21.3 22.6 52M1388.9 1382.3q14.3 -24.2 38.4 -38.8M1578.4 1142.3q13.1 12 23.9 26.1M1432.8 965.4q1.1 24.9 14.6 45.8M1307 1362.2q17.1 18.6 26.2 42.2M1469.7 1197.5q13.8 25.7 42.9 23.4M1554.3 1282.4q3.8 23.5 7.3 47.1M1563.4 1087.6q13.4 5.3 27.2 9.4M1380.3 1006.9q2.9 25.1 25.2 37M1470.8 1414.6q-18 -18.2 -21.9 -43.5M1605.6 1024.4q5.3 -10 14.4 -16.7M1654.5 1059.7q19.7 -7.8 38.9 -16.5M1499.5 1026.3q11.3 -18.8 25.5 -35.5M1487.7 1124.4q13 20.1 35.5 28M1341.4 1272.1q4.2 14.9 9.5 29.5M1213.1 1021.9q17.7 25.5 22 56.2M1570.4 1007.6q11.3 -3 22.7 -5.1M1666.8 1180q-4 -15 -10.6 -29.1M1468.3 1412.2q-9.1 -31.9 -1.1 -64M1618.5 1218.9q-6.5 19.7 -4.1 40.3M1287.1 1013.2q18.4 -7.8 37.1 -14.7M1527.8 1162.2q8.7 18.4 26.4 28.5M1598.3 1181.8q-1.2 26.5 -3 53M1299.2 1031.9q24.1 -6.2 48.1 0.1M1369.9 1116.8q9.4 -22.3 29.2 -36.4M1519.1 1270.6q-1.1 32.5 8.5 63.5M1665.4 1339.4q0.9 16.1 2.6 32.1M1415.3 1258.7q4.7 -10.8 5.4 -22.6M1235.2 1255.1q12.6 13.6 22.1 29.5M1439.9 1101.3q14.5 -26.7 10.3 -56.8M1232.7 1008.2q15.6 24 14.8 52.5M1297.6 1150.3q7.2 18.6 25.7 26M1529.4 1375.7q-2.7 27.6 8.8 52.9M1665 1194q6.6 -29.1 8.4 -58.8M1228.2 997.7q16.4 19.7 28.1 42.4M1353 1286.9q-0.9 25 1.9 49.8M1234.9 1098.5q13.9 10.5 17.8 27.5M1266.8 1125.4q10.3 7.9 16.2 19.4M1556.6 1194.5q13.8 28.6 10.9 60.1M1419.2 1341.7q8.9 -17.2 10.5 -36.5M1673.5 1344.2q-1.3 18.6 5.6 36M1370.3 1166.9q17.9 -14.1 32.6 -31.5M1604.5 1198.6q5.7 13.3 4.1 27.6M1585.8 1334.8q0.3 21.6 2.7 43.1M1479.3 1195.7q1.1 28.2 -1.9 56.2M1231.8 1203.6q4.2 11.1 6.2 22.8M1578.7 1351q-4.9 12.5 -5.3 25.9M1568.1 1234q8.3 26.3 24.8 48.4M1460.2 1276.1q2.5 32 13.3 62.2M1521.8 1178.1q22.8 12.5 43 28.9M1658.7 1185.6q-1.3 -30.6 15.2 -56.4M1618 1313q2.1 26.1 -14 46.8M1467.5 1264.6q5.1 19.3 1 38.9M1272.5 1284.1q4.2 13.1 8 26.4M1297.3 1156.3q4.3 12.6 17.4 14.5M1345 1034.8q13 -7.1 27.6 -4.9M1226.4 1170.2q9.7 5.6 15.3 15.3M1246.6 1038.1q6.8 25.6 21.9 47.5M1496.5 1090.2q9.6 -10.3 15 -23.4M1566.2 1111.1q20.9 1.9 40.6 9.1M1329.3 1337.4q7.6 21.1 10.3 43.4M1678.3 1217.8q11.6 -29.2 18.6 -59.8M1595.4 1137.4q13.7 8.6 26.6 18.5M1700.3 1282.1q4.8 -20.1 8.3 -40.4M1386.3 1333.5q0.5 -14.2 9.1 -25.5M1266.2 1105.1q8.6 22.4 31.5 29.6M1524.2 1390.5q-2.8 13.7 2.3 26.7M1568.4 998.7q18.6 -24.7 49.2 -28.7M1233.8 1079.9q12.3 17 20.7 36.1M1439.2 1404.7q-3.3 -17 1.6 -33.6M1587.6 1135.8q16.2 23.6 29.9 48.7M1290.8 1190.7q17.8 22.5 34.6 45.9M1341.7 1123.9q19.4 -6.9 37.2 -17.3M1550.2 1124.2q16 10.1 29.6 23.4M1430.9 1401.3q2.9 -10.3 11.2 -17.3M1390.8 1304.2q9 -19.3 5.6 -40.2M1196.7 1382q14.3 19.4 22.1 42.3M1334.2 1151.3q15 -9.3 30.8 -17M1400.1 1292.2q5.4 -26.2 2.3 -52.9M1368.5 1400.9q-1.7 -17.6 1.8 -34.9M1599.2 1034.4q23.4 -9.8 44.8 -23.2M1543.1 1074.2q22.2 -9.5 36.9 -28.6M1240.5 1062q5.8 18.4 15.2 35.2M1222.7 1354.9q14.2 20.3 33 36.4M1586.9 1312.3q1.6 19.4 8.5 37.6M1193.7 1130.9q30.9 11.7 33 44.7M1531.9 1224.3q4.8 17 10.5 33.8M1519.5 1053.4q17.7 -22.1 25.6 -49.2M1624.9 1212.3q-14.4 28.6 -8.2 60.1M1462.1 1114.3q18.3 18.6 36.6 37.1M1699.6 1216.1q-3.2 -15.5 6.2 -28.2M1677.6 1264q5.3 -14.6 7.8 -30M1487.8 1261.8q-1.2 20.1 13.8 33.5M1433.6 1066.4q2.9 -30.2 7.1 -60.3M1465.7 1193q14.1 27.1 24.4 55.8M1699.7 1301.5q7.7 27.6 11.3 56M1343.4 1334.9q-3.5 29.9 10.6 56.4M1290.3 1202.9q5.8 12.8 12.3 25.2M1696.3 1356.8q10.7 23.1 13 48.5M1567.1 1140.6q10.4 2.4 18.6 9.1M1292 1162q7.9 21.8 23 39.4M1281.5 1188.6q4.3 17.8 18 30M1511.9 1027.2q12.6 -29.2 31.6 -54.7M1486.2 1167.3q17.8 18.9 40.9 30.5M1565.2 1282.4q20.2 20.8 43 38.5M1623.4 1129.1q9 29.2 25 55.4M1457.3 1193.2q9 15.1 23.5 25.2M1226 1267.6q9.4 22.2 8.2 46.2M1572.3 1106.6q11.6 5.5 22.6 12.1M1418.8 1219.9q11.4 -23 20.5 -47M1463.4 1099.1q9 -12.9 11.5 -28.4M1230.3 1340.5q8.9 28.2 13.6 57.4M1405.9 1344.7q18.1 -16.4 20.2 -40.8M1640.4 1034.8q18.9 -11.7 40.1 -18.6M1669.4 992.5q16.8 -5.4 30.2 -16.9M1226.4 1346.1q11.3 14.6 15.4 32.6M1487.9 1015.7q12.6 -11.4 22.7 -25.1M1449.6 1392.4q4.9 -13.8 10.9 -27.2M1351.7 1345.1q3.2 28.8 0.8 57.7M1353.6 1199.3q35.2 -3.4 56.6 -31.5M1301.4 1240.7q-1.4 12.2 6.9 21.1M1238.9 1266.8q5.9 32.2 34.6 47.9M1549.6 1054.7q7 -21.6 28.8 -27.8M1234.8 1066q3.3 14.9 15.3 24.5M1277.1 1090.2q14.6 -13 34.2 -13.6M1534.9 1341.4q4.7 16.2 6.3 32.9M1670.9 1277.8q5.4 -11.5 2.8 -23.9M1700.5 1181q-0.3 -11 0.5 -22M1500.6 1114.5q10.4 -7.9 11.8 -20.8M1341 1281.9q1.8 22.7 12 43M1287.9 1344.8q9.1 18.3 17.9 36.6M1575.2 1134.8q9.2 10.8 15.5 23.4M1474.8 1230.6q2.5 28.5 19 51.9M1458.8 1176.6q11.9 19.3 11.1 42M1661.5 1061.7q22.7 -7.6 46.6 -8.7M1303.3 1149.2q27.1 13.2 36.8 41.7M1309.9 1173.2q6.7 21.2 24.2 34.9M1211.4 1207.9q17.5 25.6 17.8 56.5M1273.9 1049q19.8 -0.4 39.5 -2M1410 1120.7q14 -27.1 32.6 -51.4M1486.4 1201q6.5 11.8 8.8 25.1M1338.9 996.5q19.6 11.7 42.4 10.4M1335.1 1219q-1.8 14.1 2.9 27.6M1306.5 1063q20.3 -22.2 50.3 -23.2M1216.2 1130.6q13.8 29 34.3 53.6M1219.9 1178.1q12.7 10 7.7 25.4M1425.3 1327.8q9.3 -28.6 16 -57.9M1266.7 1140.9q5.3 10.8 15 18.1M1212.5 1391.7q12.4 10.5 14.5 26.7M1316.2 1189.8q7.2 31.2 29.1 54.7M1377.3 1131.3q9.5 -5.3 19.4 -9.9M1401.4 1283.7q7.4 -24.6 10.8 -50.1M1634.6 1251.4q2.9 -18.9 12 -35.7M1620.2 1130q12.1 13.4 19.3 29.9M1289.4 1202.7q4.3 14.4 12.2 27M1439 1139.6q6.8 -25.1 1.1 -50.6M1614.3 1071.4q25.6 0.5 51.1 -2.1M1374 1109.9q12.6 -9.8 24.8 -20M1392.3 1389.9q6.5 -17.3 18.7 -31.1M1262.6 1360.4q11.5 25.1 35.2 39M1652.6 999.2q11.2 -4.7 19.5 -13.6M1640.6 1114.8q11 3.9 18.3 13M1387.4 1102.7q15.4 -17.6 29.6 -36.3M1209.9 1106q7.2 11 17.1 19.7M1548.1 1089.4q14.1 0.1 25 9.1M1287.9 1105.8q17.6 -7.8 36.8 -6.8M1626.7 1077.5q14.3 5 29.5 3.7M1208.7 969.9q19.9 21 28.7 48.5M1682.7 1106.1q16.2 -3 28.7 7.6M1550.8 1250.5q3.1 15.1 2 30.5M1519 1032.4q5.2 -10.2 8.1 -21.2M1388.9 1133.7q7.9 -11 15.7 -22.1M1393.6 1193.2q15.5 -4.5 25.7 -16.9M1235.5 1110q12.9 19.3 28.1 36.7M1547.1 1202.4q11.7 14.8 21.8 30.7M1372.9 994.7q13.5 16.3 28.4 31.3M1492.2 1174.5q6 8.8 14.5 15.2M1370.6 1384.7q6 -24.4 15.6 -47.6M1281.4 1172.4q19.2 3.8 30.5 19.7M1493.2 1358.4q9.3 23.5 2.6 47.9M1388.5 1179.3q31.1 -9.9 44.5 -39.6M1382.7 1385.3q13.8 -16.4 26.6 -33.6M1345.8 1142.2q12.9 -6.2 26 -12M1308.5 1251.4q9.5 20.1 19.4 40M1395.8 1106.4q6.6 -21.3 12.7 -42.8M1515.5 1203.8q12.9 15.3 6.8 34.3M1369.8 1382.9q16.8 -21.3 16.6 -48.5M1550.9 1367.5q2.6 24 -0.9 48M1445.2 1196.1q2.2 27 12 52.3M1467 1096.6q8.8 -11.3 12.3 -25.1M1459.4 1048.9q3.8 -11.7 6.9 -23.6M1548.9 1049.2q13.1 -16.4 21.7 -35.5M1277.7 1336.1q7.9 13.6 14.2 28M1455.7 1305.5q0.4 16.1 7.9 30.3M1539.2 1109.3q21.6 21.8 52.1 25.4M1615.9 1200.7q2.5 24.3 13.2 46.2M1624.6 1297.6q-5 24.9 -1.8 50.1M1288.4 1063.3q31.2 -0.6 62.3 -2.9M1672.7 1051q19.3 -15.7 43.5 -21.3M1387.9 1399.4q15.5 -20.9 31.2 -41.7M1242.1 976.5q10.7 32.9 40.6 50.4M1255.9 1103.9q6.4 19.9 14.8 39M1379 1124.9q8.2 -15.9 25.5 -20.6M1399.1 1263.7q-10.7 -19.9 3.7 -37.3M1546.7 1203q9.1 10.7 15.1 23.4M1250.3 1367.6q3.3 12.8 12.7 22M1345.1 980.9q22 9.9 42.8 22M1328 1088.6q13.5 -8.2 26.6 -17.2M1225.7 999.6q4.1 11.1 5.3 22.9M1281.8 1161.8q13.2 26.4 26.2 52.9M1436.7 1160.5q10.9 -3.9 22.4 -2.7M1473.4 1231.6q12.2 28.9 16.3 60.1M1628.3 1381.1q8.8 25.2 24.9 46.4M1280.2 997.8q11.7 -1.5 22.7 -5.3M1383 1312.6q4.1 -9.8 2.7 -20.3M1302 1362.1q6.4 27.5 13.9 54.7M1591.3 1269.2q6.2 28.9 25.5 51.2M1598.1 1382.8q-12.7 15.7 -13 35.8M1538.6 1081.3q21.6 7.8 42.7 16.9M1292.2 1135.7q22.3 18.8 50.8 24.6M1384.2 1223.4q-1.6 30.7 6.1 60.4M1351 1020.5q13.4 8 28.8 6.2M1571.9 1204.8q8.6 9 14.5 20.1M1261.2 1115.6q13.5 16.5 27.4 32.7M1403.2 1133.9q1.8 -14.6 7.5 -28.2M1621.7 1102.1q29.1 14.3 54.2 34.9M1406 1412.4q19.6 -18 28.8 -43M1275.5 1102.2q15.5 -11.7 34 -5.6M1279.2 1116.7q16.3 18 32.3 36.2M1391.5 1286q12.2 -29 5.2 -59.7M1638.6 1262q-2.1 -12.4 -4 -24.8M1620.9 1257.1q4.2 19.1 12.2 36.9M1389.5 1101.2q4.2 -21.6 15.8 -40.2M1207.2 1228.7q9.4 21.6 23 40.7" stroke-width="4"/>
</g>
<g fill="none" stroke-linecap="round" filter="url(#sb)"><path d="M1514.2 1236.4q1.7 17 6.9 33.3M1248.8 988.4q7.1 14.2 20 23.5M1302.6 1020.4q15.6 -8.5 32.8 -4.1M1318.7 1015.1q20.1 -8.9 39.2 2M1484.4 1037.5q-1.2 -19.5 9.9 -35.6M1582.4 1184.8q5.5 11.5 10 23.3M1511.6 1373q7.3 16 9.9 33.3M1282.6 1257.1q4.7 9 10.5 17.3M1385.9 1301.3q-0.1 -6.8 0.7 -13.6M1204.6 1160.4q5 14.3 10.4 28.3M1504.8 1199.8q2.2 13.8 8 26.5M1346.1 1082.4q11.7 -1.7 21.4 -8.4M1474.1 1358.4q-2.1 11.2 -5.1 22.2M1335.1 1241.7q1.6 7.3 4.8 14M1524.5 1136q10.3 9.9 15.8 23.1M1423 1406.2q10.8 -11.6 18.2 -25.6M1210.5 1366q2.5 7.1 8.5 11.6M1236.5 1001.5q16.2 15.7 11.4 37.8M1410.8 1119.7q10.5 -13.9 21.5 -27.3M1257.1 1013.8q7.1 13.2 12.1 27.3M1486.3 1142.1q11.5 11.9 25.2 21.1M1206.9 1187.9q2.1 13.5 5.7 26.6M1470 1089.5q3.5 -16.3 10.3 -31.4M1223.1 1331.1q5.5 8.8 11.7 17.1M1478.3 1239.5q-0.6 15.2 2.8 30M1306.7 1001.3q14.5 -13.6 34.3 -11.7M1620.7 1073.6q15.2 4.8 30.5 0.3M1270.7 1382.2q6.1 10 11.9 20.3M1380.6 1118.4q5.2 -3.6 9.8 -7.8M1416.5 1201.6q20.8 -7 26.3 -28.2M1252 1271.2q3.4 18.5 16 32.5M1503.5 1351.2q8.5 16.1 4.6 33.9M1549.5 1358.4q5.8 13.3 6 27.9M1510.4 1146.5q7.1 3.4 11.9 9.7M1554 1380.4q-4.7 14.7 -3.9 30.1M1496.8 1187.4q16.5 9.6 32.4 20.2M1310.3 1176q10.1 11.4 13.7 26.2M1656.9 1364.2q-5.1 9.7 -3.2 20.5M1509.8 1283.1q0.3 20 8.1 38.3M1330.3 1218.7q2.7 6.9 6.9 12.9M1550.3 1307.7q-4.5 20.6 -0.7 41.4M1378.3 1227.6q6.2 -18.1 14.2 -35.4M1289 1165.2q12.9 10.4 18 26.2M1224.5 1062q5.4 5.3 8.3 12.2M1243.2 1110q4.4 7.4 10.4 13.6M1513.4 1358q0.7 12.6 0.5 25.1M1242.6 1209.8q-1 12 6.1 21.8M1200.4 1347q4.2 13.3 11.9 24.9M1478.1 1249.1q1.4 11.2 0.7 22.5M1303.9 1288.1q3.7 8.2 9.2 15.2M1412.7 1350.3q5.1 -12.2 5.9 -25.5M1492.1 1009.3q4.1 -7.9 5 -16.7M1625.6 1265.3q0.6 8.8 -0.2 17.6M1358 1217.5q-4 -19.9 6.5 -37.2M1287.5 1333.9q2.2 9.2 7.2 17.2M1321.9 1394.4q9.1 8 10.6 20M1696.4 1385.5q2.4 6.3 3.1 13.1M1687.8 1314q2.9 6.1 1.3 12.6M1665.6 1103.4q13.6 2.9 23.4 12.7M1470.5 1353.5q2.6 19 -2.6 37.5M1331 1299.1q3.6 11.9 9.6 22.9M1491.6 1054q7.5 -15.9 7.9 -33.4M1404.8 1409q6.4 -4.4 8 -12M1556.1 1209.4q9.6 15.7 23 28.3M1600.9 1367.1q-3.9 16.3 -3.4 33M1296 993.8q16.3 -5.5 33.3 -2.4M1288.6 1144.2q9 15.5 24.6 24.3M1706.2 1351.8q7.7 17.6 -2.2 33.9M1570.9 1027.7q6.1 -4.7 10.5 -10.9M1220.8 1262.8q8.6 10.8 12.8 24M1399.7 1381.3q11.7 -13.6 21.7 -28.5M1349 1135.4q14.2 -10.2 26.4 -22.6M1502.6 1163.7q8.7 16.9 19.6 32.5M1333.3 1075q6.5 -4 13.7 -6.3M1238.2 1233.3q5.9 14.2 3.6 29.5M1358 1091.9q8.6 -13.4 22.7 -21M1654.2 989.7q10.7 -4.6 20.2 -11.3M1662.5 1192.5q1.6 -11.3 6.3 -21.7M1705.8 1248.3q-0.6 -15.8 6.5 -30M1390 1113.1q12.2 -11.4 20 -26M1234 1021.1q13.2 11.8 25.6 24.5M1434.6 1094.4q9.8 -17.8 17.5 -36.5M1699.8 1351.1q-0.4 19.3 3.9 38.2M1199.3 1030.1q19.3 11.1 22 33.1M1491.4 1364.4q1.8 12.6 3.1 25.2M1649.1 1300.2q-4.1 -16.9 -10.2 -33.2M1307.4 1262.4q9.1 17.9 17.4 36.2M1248.1 1093q9.1 15 24.2 24.1M1698 1335.8q8 16.5 13.5 34M1466.7 1262.7q2.5 8.5 -1 16.7M1274.5 1349.7q0.9 22.1 17.9 36.2M1255.1 1270.8q10 8 17 18.7M1400.8 1099q7.6 -18.5 21 -33.3M1451.4 1332.2q1.6 -9.3 2.5 -18.7M1605.8 999.1q10.6 -5.1 20.9 -10.9M1630.4 1335.7q-3.3 11.8 2.3 22.6M1621.4 1261.6q-0.8 10.1 0.9 20.1M1688.7 1131.6q2.8 17.7 -8 32M1391.1 1312.3q-1.8 -13.4 -3.4 -26.8M1321.5 1373q10.6 17.5 21.7 34.7M1597.5 1335.6q1.7 11.5 3.4 22.9M1232.2 1136.7q11.4 17.3 25.5 32.5M1222.8 1181.2q0.3 13.6 8.4 24.5M1587.4 1378.1q5.3 13.3 1.5 27.2M1253.7 1279.2q3.1 14.8 12.1 26.9M1677.6 1184.5q5.4 -13.9 2.6 -28.5M1334 1360.3q3.5 13.7 9.4 26.5M1663.2 1331.6q4.9 13.4 1.7 27.3M1662.3 1319.8q-7.6 16.1 -0.2 32.3M1384.9 1312.3q2.4 -13.6 0.1 -27.1M1522.8 1361.5q1.5 11.9 -1 23.6M1485.2 1331.9q8.6 15.9 8 33.9M1387.5 1176.1q11.6 -13.1 26.1 -22.7M1670.6 1347q-3.2 9 -2.5 18.5M1563.4 1267.4q8.1 13.9 9 29.9M1253.8 1010.8q5 8.2 11.5 15.2M1669.1 1100.3q19.6 6.1 39.4 11.7M1664.3 1034.8q12 -7.2 25.1 -12.4M1366.9 1392.4q1.5 -6.4 0.7 -12.9M1317.4 1392.2q4.2 9 9.2 17.5M1573.2 1169q0.8 8.9 8.8 12.8M1339.5 1168.7q17.6 -7.1 33.7 -17.1M1351.9 1203.3q4.9 11.5 7.9 23.7M1449.1 1367.4q5.6 -15.6 8 -31.9M1624.8 1205.2q-1.5 -12.7 4.6 -24M1554.1 1185.1q1.8 19.6 15 34.2M1583.1 1253.4q2.8 9.3 8.2 17.3M1353.6 1178.5q14.1 -15.2 28.6 -30M1320.3 1114q14.5 -5.5 29.1 -10.8M1570.4 1127q7.5 5.8 13.7 12.9M1484.5 1191.1q11 16.6 14.8 36.1M1517.5 1261.9q6.2 13.1 10.5 26.9M1227.5 980q11.5 9.4 16.1 23.6M1444.5 1152.1q15.3 0.6 29 7.4M1574.5 1168.6q9.5 10.5 12.3 24.3M1445.3 1348.2q8.8 -13.2 3.5 -28.2M1470.6 1156.3q9.5 10.4 16.6 22.6M1379 1183.6q9.3 -4.3 15.4 -12.6M1563.6 1108.6q5.8 3.6 11.4 7.7M1649.1 1286.3q4.6 -11.1 1.5 -22.8M1454.3 1117.8q4.2 -18.3 11.5 -35.6M1490.7 1195.6q9.6 10.9 11 25.2M1519.8 1090q16.1 4.9 32.4 9M1621.1 1287.5q-0.5 7.6 -2 15.1M1468.1 1069.1q1.6 -6.2 5.7 -11M1397.7 972.2q9.7 14.5 10.4 31.9M1194.6 1365.5q3.8 18.1 18 29.9M1377.1 1336q8.6 -17.4 4.8 -36.5M1282.3 1198.3q9.7 17.1 20.8 33.4M1381.1 1222.5q-9.7 18.8 -10.7 40M1564.9 1143.5q12.8 9.3 24.4 20.1M1418.8 1322.3q3.6 -6.5 4 -13.9M1219.1 1063.3q2.8 11.4 6.2 22.5M1263.8 1262.4q11.2 5 9.6 17.1M1582 1122.3q10.5 6.2 20.7 12.7M1653.1 1089.8q12.7 3.5 25.5 0.9M1552.1 1171.7q11.1 11.7 20.4 24.8M1639.7 1143q6.6 12.8 3.3 26.9M1585.9 1172.8q3.8 17.2 14 31.7M1276.7 1145.6q12.7 13.8 9.4 32.2M1552.6 1266.7q3.3 7.5 5.5 15.4M1615.2 1005.1q14.5 -13.5 29.8 -26M1330.2 1067.3q20.6 5.7 37.3 -7.6M1397.4 1139.8q16.5 -12.9 20.7 -33.3M1681.7 1326.1q5.6 19.4 7 39.7M1217 1088.2q3.8 18.5 18.9 29.6M1666.1 1056.2q11.1 0 21.1 -4.7M1304.5 1294.4q2.4 7.6 4.9 15.2M1587.9 1280.2q5.1 9.7 9.9 19.6M1681.8 1316.7q-4.2 -20.1 2.8 -39.4M1439.9 1396.8q2.8 -10.6 1.1 -21.5M1662.1 1394.9q3.6 6.7 2.7 14.2M1355.1 1128.6q10.7 -4.4 20.1 -11.3M1408.9 998.9q-3.2 15.3 5.8 28.1M1471.7 1198.1q4.5 5.8 6.2 12.9M1426.4 1346.9q4.1 -18 10.3 -35.3M1223.9 1194q0.6 9.6 4.6 18.4M1268.3 1329q7.2 16.7 20.6 29M1286.1 1177.4q6.6 18.9 15.7 36.6M1484.7 1124.1q2.4 -13.5 10.1 -25M1630.8 1160.1q-1.5 7.9 -2.2 15.9M1338.2 1363.7q-1.8 10.7 4.6 19.5M1591.2 1135.4q15 7.8 27.4 19.4M1383 1403.7q3 -5.8 4.9 -12M1327.3 1031.1q8.1 -3.2 16.6 -4.9M1269.4 1287.9q7.1 8.2 11.3 18.2M1231.9 1336.7q6 9.6 11.8 19.4M1514 1087.3q8.3 -11.1 17.1 -21.9M1489.2 1070.1q4.4 -6.7 9.1 -13.1M1673.7 1321.7q-2.6 5.9 -1.4 12.3M1361 1075.3q6.8 -1.4 11.9 -6.1M1672.2 1072.9q19.7 -4.2 39.5 -0.4M1435.4 1312.6q5.3 -14.8 4.8 -30.6M1330.3 1388.6q3.6 16.4 6.5 32.9M1336.3 1296.3q6.4 13.3 7.1 28.1M1277.8 1093.8q7.6 -0.3 15.1 -1M1280.4 1170.7q10.3 12.1 20.1 24.6M1489.5 1383.8q-0.1 7.4 -1.6 14.6M1544 1081.2q12.8 5 23.8 13.2M1251.9 1152.2q6.8 16.4 14.5 32.4M1253.4 1064.2q2 9.4 10.8 13M1355.8 1120q15.1 -6.9 27 -18.5M1372.1 1086.1q9.6 -4.4 18.1 -10.6M1338.4 1335.5q1.6 6.9 2.4 13.9M1554.2 1394.8q0.5 6.3 0.5 12.6M1305 1250.2q6.6 14.6 12.4 29.6M1536.2 1004.2q7.5 -9 16.9 -15.9M1696.5 1328.4q2.3 5.9 1.9 12.2M1689.4 1017.1q20.5 -4.5 39.9 -12.4M1423.5 1082.7q4.8 -10.4 9.2 -20.9M1361.2 1332.8q8.4 -17 2 -34.9M1508.1 1031.5q17.9 -11.5 26.4 -31M1320.5 1258.3q6.9 5.7 6.6 14.7M1675.7 1065.5q8.6 -1.4 17.3 -1.4M1548 1024.2q5.4 -8.5 15.3 -10.5M1556.8 1247.4q4.3 10.7 7.7 21.7M1404.1 1231.5q-2.6 -12.2 2.3 -23.6M1396.5 1076.4q-3.8 -17.6 -2.2 -35.5M1218.8 1287.6q-1.2 19.8 11.9 34.7M1481.3 1319.1q3.4 20.4 2.4 41M1428.5 1188.4q7.5 -4.8 13.3 -11.5M1341.5 1207q1.9 7.6 6.4 13.9M1435.6 1166.5q16.2 5.9 26.5 19.7M1230.1 1097.2q3.3 12.3 12.4 21.2M1251.3 1023.6q5.4 14.8 11.6 29.2M1316.8 1363.5q7.8 10.9 16.6 20.9M1323.6 1136.9q13.3 -3.3 26.7 -6.2M1210.2 1134.6q2.5 14 9.8 26.1M1581.2 1359.1q-8 16 -2.1 32.9M1465.2 1156.2q17.2 11.8 26.7 30.3M1659.9 1123.5q12.6 15 23.2 31.4M1444.5 1267.7q4.6 9.2 0.9 18.7M1669.1 1385.2q5.7 7.5 6.2 16.8M1288 1081.6q9 -6.9 19.2 -11.7M1639.9 1371.8q0.6 6.3 3.7 11.8M1673.8 1252.6q4.4 -10.5 9.9 -20.5M1287.6 1188.5q8.6 11.6 11.6 25.7M1314.7 1111.9q7.2 -1.5 14.3 -3.7M1475.6 1099.4q11.4 -8.8 12.8 -23.2M1484.6 1241q14.7 18.1 7.6 40.4M1455.3 1209.3q3.5 6.6 2.6 14.1M1436 1078.5q0.5 -9 -1.1 -17.9M1363.7 1218.2q4.2 11.3 4.4 23.4M1517.4 1119.4q14.2 2.6 27.8 7.4M1535.4 1212.5q-0.7 14.3 12.5 19.8M1208.4 1152.8q5.2 11.3 12.2 21.6M1586.5 1256.5q-2 21.6 8.9 40.4M1601.6 1011.5q13.2 -8.9 26.2 -18.3M1651.8 1291.1q-4.3 -17 0 -33.9M1569.1 1345.3q-1.2 15 -4.5 29.6M1426.8 1177.8q15.1 -10 32.3 -15.9M1463.7 1158q16.1 9.2 31.5 19.5" stroke="#fff" stroke-opacity="0.3" stroke-width="1.3"/><path d="M1303.1 1291.3q4.1 10 8.3 19.9M1671.4 1005.4q18.3 -1.2 32.3 -13M1521.3 1308q6.9 7.9 8.4 18.3M1654.4 1340.4q1.7 14.9 4.9 29.6M1601.4 1295.7q2.7 6.9 0.4 13.9M1337.8 1173.9q4.8 8.6 14.3 11.1M1497 1259.2q-0.9 10.3 4.5 19.2M1562.7 1073.2q17 -7 35.4 -6.2M1359.8 1130.7q15.7 -10.8 30.6 -22.8M1336.9 981.6q16.8 5.2 33.4 11.4M1467.4 1039.7q-0.8 -18.4 8.2 -34.5M1520.9 1216.7q2.3 6.9 6 13.1M1390.1 1250.2q-0.2 -12.4 1.7 -24.6M1375.9 1389.7q4.2 -12.3 10.9 -23.3M1513.8 1034q6.1 -10.6 13.9 -19.9M1236.3 1168.6q3.2 8.1 5.7 16.4M1516.6 1211.2q2.1 7.1 6.5 13M1231.1 1209.2q-4.8 20.5 0.8 40.8M1457.7 1340.4q3.6 -18.2 -4.1 -35.1M1379.7 1309.1q2.6 -12.1 2.3 -24.5M1472.5 1368.4q-1.4 13.6 1.2 27M1359 1276.8q1.5 9 2.8 18.1M1417.6 1348q-2.5 -22.3 10.4 -40.6M1230.9 1055.2q-0.3 21.7 15.5 36.6M1605.2 1379.8q-4.8 16.7 -3.2 34M1687 1299.2q1.3 -8.6 0.7 -17.2M1589.1 1275.9q1.4 20.6 11.8 38.5M1229 1011.7q7.7 4.8 9.1 13.7M1237.4 1237.1q4.4 19.4 5.1 39.3M1258.8 1231.5q3.4 15.5 15.8 25.5M1223.9 1297q9 12.5 14.9 26.8M1263.6 1196q2.6 12.6 7.9 24.3M1495 1098.7q3.7 -6.4 4.6 -13.8M1428.6 1098.8q5.7 -7.2 8 -16M1208.6 989.8q1.3 6.1 5.1 11.1M1372.9 1029.8q8.1 7.3 14.2 16.2M1473.6 1171.9q16.4 14.4 9.8 35.2M1321 1392.1q4.5 7.9 8.3 16.2M1282.2 1123.5q8.4 8.6 17.9 16M1200.4 1387.2q4.6 5.4 6.1 12.4M1659.2 1232.1q14.2 -15 14.4 -35.7M1261.4 1340.5q7.8 16.1 13.7 33M1356.9 1178.3q13.3 -10.5 28.3 -18.3M1551.6 1162.8q11.1 15.9 18.9 33.6M1653.5 1128.7q4.7 13.3 12 25.4M1370.5 1392.8q1.1 -8.4 5.2 -15.9M1245.1 1202.9q9.3 14.6 11.7 31.8M1383.5 1232.8q-2.9 14.2 -2.2 28.7M1643 1322.2q-1.8 21.1 5.9 40.8M1679.4 1262.1q-0.3 -7.4 1.8 -14.6M1593.4 1100.4q16.4 2.8 28.1 14.7M1213.6 1126.6q3.8 9.5 7.1 19.1M1540.3 1291.3q-0.5 6.5 2.4 12.3M1464.2 1008.5q2.8 -10.9 3.8 -22M1613.8 1108.2q22.3 0.5 33.6 19.8M1694.8 1293.8q4.3 12.4 -0.5 24.7M1415.6 1351.3q5.9 -8.8 11.4 -17.8M1305 1243.9q13.7 15.5 15.4 36.1M1211 1265.2q9.1 16.6 13.2 35.1M1571.2 1056.9q16 0.7 29.8 -7.2M1213.9 1340.3q5.1 19.6 11.9 38.7M1362 1215.5q2.6 18.4 6.8 36.6M1587.8 1250.8q1.8 12.3 6.3 23.9M1435.7 1232.4q-3.5 -13.7 -0.7 -27.6M1519.9 1259.8q6.6 13 10.3 27.2M1418.7 1283q-1 -11.6 1.6 -23M1466.9 1066.5q9.7 -10.7 11.2 -25.1M1402.2 1205.2q10.4 -11.1 15.8 -25.2M1332.4 1344.1q5.1 3.9 8.5 9.4M1430.9 1133.5q4.8 -14.2 13.8 -26.3M1337.5 1060.8q13.5 -5.3 24.7 -14.5M1696.6 1310.3q4.4 11.5 6.7 23.6M1561.6 1256.3q1.8 10.2 6.7 19.3M1524.6 1062.5q7.7 -6.9 12.6 -16M1262.1 1231.1q4.6 14.5 12.7 27.5M1465.5 1195.5q9.2 15.1 17.7 30.5M1269.5 1087.5q11.3 0.8 21.6 5.4M1263 1364.2q5.3 8.1 12.4 14.9M1381.6 1219.1q6.4 -11.6 9.3 -24.5M1439.2 1075.8q0.5 -14.6 2 -29.1M1261.1 1195q17.1 14.2 17.1 36.4M1249.3 1160.7q14 15 21.2 34.3M1641.6 1080.2q13.3 2.2 26.3 6.1M1350.3 1186.3q3.2 12.4 10.9 22.5M1214 1215.5q9.9 18.6 14.9 39M1345.6 983q14.1 9.7 30.1 16.2M1672.2 995.5q9.2 -3.8 16.5 -10.6M1588.7 1239.4q-0.4 19.9 9.5 37.1M1348.7 1113.2q6.6 -2.7 13.3 -4.7M1450.4 1153.2q17.2 9.5 31.9 22.7M1239.1 1131.2q1.9 7.2 4.7 14.1M1652.3 1112.7q7.4 7.9 18 10.4M1323.5 1214.9q10.7 8.1 17.5 19.8M1635.5 1355q2.5 20.6 10.4 39.7M1357.2 1389.7q13.1 -13.5 16.3 -32M1270.7 1071.9q6.6 -1.7 12.9 1M1483.4 1040.3q5.3 -6.6 4.7 -15M1385.7 1391.8q8.6 -13.3 15.1 -27.7M1540.2 1048.5q6.9 -11.6 18.1 -18.9M1296.2 1051.2q16 -7.8 33.8 -6.5M1633.1 1010.1q16.4 -8.4 33 -16.5M1380.1 1092.6q3.2 -5.5 7.7 -9.8M1610.5 1194.4q-0.6 16.5 8.2 30.5M1383.1 1417.3q15.2 -8.4 24.5 -23M1275.3 1163.2q11 15.5 20.8 31.7M1372.8 1144.4q5.5 -9.3 15.1 -14M1509.3 1089.3q11 -9.3 19.7 -20.7M1441.1 1211.2q-3.3 18.2 -3.5 36.7M1279.5 1282.6q7.1 14.2 15.6 27.6M1327.7 1347.4q0.1 13.2 7.9 23.8M1350.9 1120.8q12.2 -12.1 20.8 -27M1411.9 1415.5q10.3 -11.9 16.6 -26.3M1455.8 1204q10.7 15.6 16.6 33.6M1290.1 1276q4.7 6.1 9 12.6M1313.9 1168.1q5.3 7.1 13 11.4M1574.7 1360.8q12.8 15.2 10.2 35M1513.6 1277.5q2 6.7 1.4 13.7M1218.6 1009.8q2 10.3 6.2 19.9M1525.8 1264.2q7.8 20.7 -1.5 40.8M1612.1 1263.6q2.5 8.7 2.3 17.8M1300.5 1251.4q4.6 17.3 14.2 32.4M1275.8 1151.3q2.5 8.4 8.2 15.2M1338.4 1208.2q4.4 7 8.1 14.5M1514.5 1107.2q4.8 -5.8 11 -10.1M1574.5 1007.1q6 -15.8 21.3 -22.7M1211.8 1001q6.2 8.9 4.5 19.6M1479.8 1182.8q10.1 8.8 13.5 21.7M1278.3 1305q15.3 14.7 24 34M1520.3 1088.1q13.8 1.6 27.7 1.9M1523.9 1333.5q-0.4 12.4 2.6 24.4M1459.4 1113q9.1 -13.7 15.4 -28.9M1522.5 1093.5q7.9 15.9 25.5 12.9M1409.8 1215q4.2 -5.7 7.3 -12.1M1355.1 1124.9q9.3 -4.8 18.7 -9.6M1626.8 1287.9q-0.9 18.5 -1 37M1440.7 1066.7q2.8 -8.3 5.8 -16.4M1598.8 1199.2q6.2 14.1 10.6 28.8M1270.8 1318.3q12.1 11.4 14.6 27.8M1359.9 1104.9q14.7 -19.6 38.7 -14.6M1296.7 1266.1q2.3 13.7 10.4 24.9M1290.7 1015.6q14.5 -8.5 31.2 -10.5M1279.3 1240.5q3.2 15 13.2 26.6M1637 1091q11.3 4.5 21.3 11.5M1625.9 1282.9q-6.6 20.9 0.1 41.7M1369.7 1010q10.8 17.9 26.6 31.6M1599.8 999.5q11.6 -5.4 23.1 -11.2M1232.6 1362.7q4.3 6.8 9.8 12.5M1692.1 994.1q8.7 -5.6 18.1 -9.9M1686.8 1247.5q8.2 -11.4 8.5 -25.5M1344.1 1317.4q0.5 6.8 3.7 12.8M1664 1342.4q2 10.4 0.6 20.8M1616 1042.8q16.5 -7.7 32 -17.2M1629.6 1138.4q3.5 15.8 11.6 29.7M1535.8 1241.6q4.1 4.5 7.7 9.4M1673.6 1314.2q1.6 20.9 4 41.8M1455.3 1319.4q-0.5 -6.3 1 -12.4M1301.4 1049.7q13.3 -1.1 25.1 -7.4M1661.6 1090.5q15.2 15.3 36.7 16.2M1255.3 1287.9q3.7 9.1 7.8 18.1M1256.8 1034.4q5.2 18.7 22.5 27.6M1449.2 1390q8 -12.1 12 -26.1M1666.3 1139.6q1 9.3 1.3 18.6M1230.8 1370.3q8.8 11.2 16.9 22.9M1488.3 1134.3q17.4 10.7 27.8 28.3M1479.3 1306.3q-3.3 15.5 0.4 30.9M1233.3 1205.1q4.8 16.4 7.8 33.1M1614.6 1275.9q0.9 7.8 2 15.5M1241.4 1181.3q1.6 17.4 7.4 33.9" stroke="#000" stroke-opacity="0.17" stroke-width="1.4"/></g>
<g opacity="0.07" filter="url(#sb3)"><circle cx="1426.9" cy="1345.7" r="21.2" fill="#000"/><circle cx="1448.4" cy="1100.5" r="16.6" fill="#fff"/><circle cx="1493.8" cy="1043.7" r="17" fill="#000"/><circle cx="1353.7" cy="1287.2" r="33.6" fill="#fff"/><circle cx="1318.2" cy="1090.8" r="33.4" fill="#000"/><circle cx="1495.1" cy="1314.8" r="34" fill="#fff"/><circle cx="1533.6" cy="1093.5" r="33.6" fill="#000"/><circle cx="1647" cy="995" r="33.4" fill="#fff"/><circle cx="1528.2" cy="1087.3" r="23.5" fill="#000"/><circle cx="1359.2" cy="1306" r="22" fill="#fff"/><circle cx="1254.2" cy="1352.1" r="20.6" fill="#000"/><circle cx="1297.2" cy="1275.7" r="16.6" fill="#fff"/><circle cx="1507.1" cy="1172.9" r="16.4" fill="#000"/><circle cx="1677.4" cy="1273.2" r="15.1" fill="#fff"/><circle cx="1650.5" cy="1253.7" r="30.5" fill="#000"/><circle cx="1588.3" cy="1062.4" r="20.3" fill="#fff"/><circle cx="1296.3" cy="1320.6" r="32.9" fill="#000"/><circle cx="1491.7" cy="1262.1" r="33.5" fill="#fff"/><circle cx="1466.1" cy="1171.4" r="19.6" fill="#000"/><circle cx="1692.6" cy="1043" r="17.8" fill="#fff"/><circle cx="1626.9" cy="1004.7" r="18" fill="#000"/><circle cx="1470" cy="1089.2" r="21.7" fill="#fff"/><circle cx="1224.7" cy="1263.2" r="15.5" fill="#000"/><circle cx="1353.4" cy="1034.8" r="27.9" fill="#fff"/><circle cx="1318.3" cy="1217.2" r="14.7" fill="#000"/><circle cx="1488.1" cy="1131.7" r="32.2" fill="#fff"/><circle cx="1306.8" cy="1113.2" r="31.4" fill="#000"/><circle cx="1242.2" cy="1191.5" r="23.7" fill="#fff"/><circle cx="1354.1" cy="1061.5" r="24" fill="#000"/><circle cx="1226.7" cy="997.6" r="19.7" fill="#fff"/><circle cx="1396.4" cy="1097.8" r="28.2" fill="#000"/><circle cx="1414.7" cy="1239.1" r="25.8" fill="#fff"/><circle cx="1558.6" cy="1369.3" r="25.2" fill="#000"/><circle cx="1550.5" cy="1218.1" r="15.5" fill="#fff"/><circle cx="1618.6" cy="1206.9" r="14.8" fill="#000"/><circle cx="1574.2" cy="1195.8" r="32.9" fill="#fff"/><circle cx="1415.5" cy="1183.6" r="31.9" fill="#000"/><circle cx="1664.4" cy="1304.2" r="22.9" fill="#fff"/><circle cx="1422.4" cy="1290.3" r="31.9" fill="#000"/><circle cx="1435.4" cy="1276.8" r="25.2" fill="#fff"/></g>
<rect x="1212.4" y="993.8" width="487" height="402.9" filter="url(#grain)" opacity="0.5"/>
<g fill="#fff" fill-opacity="0.2" filter="url(#sb2)"><circle cx="1346" cy="1012" r="4.6"/><circle cx="1572.1" cy="1017.8" r="4.2"/><circle cx="1683" cy="1032.2" r="3.8"/><circle cx="1419.4" cy="1049.5" r="3.1"/><circle cx="1432.4" cy="1059.5" r="5.5"/><circle cx="1305.7" cy="1068.2" r="5.4"/><circle cx="1550.5" cy="1061" r="4.1"/><circle cx="1337.3" cy="1085.5" r="3.3"/><circle cx="1348.9" cy="1084" r="4.6"/><circle cx="1255.2" cy="1112.8" r="4.9"/><circle cx="1272.5" cy="1115.7" r="4.8"/><circle cx="1583.6" cy="1121.5" r="3.9"/><circle cx="1449.7" cy="1124.3" r="5.6"/><circle cx="1274" cy="1160.4" r="5.1"/><circle cx="1423.8" cy="1170.4" r="5.9"/><circle cx="1475.6" cy="1179.1" r="3.5"/><circle cx="1690.2" cy="1157.5" r="5.4"/><circle cx="1364.7" cy="1202.1" r="5.4"/><circle cx="1531.8" cy="1207.9" r="5.4"/><circle cx="1530.3" cy="1220.8" r="5.7"/><circle cx="1536.1" cy="1246.8" r="5.9"/><circle cx="1541.9" cy="1251.1" r="5.2"/><circle cx="1559.2" cy="1264.1" r="5.3"/><circle cx="1566.4" cy="1268.4" r="4.1"/><circle cx="1570.7" cy="1274.1" r="5.4"/><circle cx="1563.5" cy="1261.2" r="3.2"/><circle cx="1639.8" cy="1238.1" r="3.7"/><circle cx="1690.2" cy="1246.8" r="3.7"/><circle cx="1353.2" cy="1291.4" r="5.1"/><circle cx="1364.7" cy="1302.9" r="4.7"/><circle cx="1448.2" cy="1318.8" r="6"/><circle cx="1613.9" cy="1301.5" r="3.9"/><circle cx="1487.1" cy="1349" r="3"/><circle cx="1351.7" cy="1363.4" r="5.8"/><circle cx="1333" cy="1382.2" r="5.6"/><circle cx="1389.2" cy="1386.5" r="4.6"/><circle cx="1683" cy="1343.3" r="5.6"/><circle cx="1235.1" cy="1252.5" r="4.8"/><circle cx="1222.1" cy="1236.7" r="5.8"/></g>
<g fill="#fff" fill-opacity="0.8" filter="url(#sb)"><ellipse cx="1345.4" cy="1011.6" rx="2.6" ry="1.6" transform="rotate(54 1345.4 1011.6)"/><ellipse cx="1571.5" cy="1017.4" rx="2.4" ry="1.5" transform="rotate(113 1571.5 1017.4)"/><ellipse cx="1682.4" cy="1031.8" rx="2.1" ry="1.3" transform="rotate(174 1682.4 1031.8)"/><ellipse cx="1418.8" cy="1049.1" rx="1.7" ry="1.1" transform="rotate(56 1418.8 1049.1)"/><ellipse cx="1431.8" cy="1059.1" rx="3.1" ry="1.9" transform="rotate(69 1431.8 1059.1)"/><ellipse cx="1305.1" cy="1067.8" rx="3.1" ry="1.9" transform="rotate(171 1305.1 1067.8)"/><ellipse cx="1549.9" cy="1060.6" rx="2.3" ry="1.4" transform="rotate(72 1549.9 1060.6)"/><ellipse cx="1336.7" cy="1085.1" rx="1.9" ry="1.2" transform="rotate(172 1336.7 1085.1)"/><ellipse cx="1348.3" cy="1083.6" rx="2.6" ry="1.6" transform="rotate(172 1348.3 1083.6)"/><ellipse cx="1254.6" cy="1112.4" rx="2.8" ry="1.7" transform="rotate(163 1254.6 1112.4)"/><ellipse cx="1271.9" cy="1115.3" rx="2.7" ry="1.7" transform="rotate(7 1271.9 1115.3)"/><ellipse cx="1583" cy="1121.1" rx="2.2" ry="1.4" transform="rotate(149 1583 1121.1)"/><ellipse cx="1449.1" cy="1123.9" rx="3.2" ry="1.9" transform="rotate(42 1449.1 1123.9)"/><ellipse cx="1273.4" cy="1160" rx="2.9" ry="1.8" transform="rotate(143 1273.4 1160)"/><ellipse cx="1423.2" cy="1170" rx="3.3" ry="2.1" transform="rotate(17 1423.2 1170)"/><ellipse cx="1475" cy="1178.7" rx="2" ry="1.2" transform="rotate(7 1475 1178.7)"/><ellipse cx="1689.6" cy="1157.1" rx="3.1" ry="1.9" transform="rotate(51 1689.6 1157.1)"/><ellipse cx="1364.1" cy="1201.7" rx="3.1" ry="1.9" transform="rotate(41 1364.1 1201.7)"/><ellipse cx="1531.2" cy="1207.5" rx="3.1" ry="1.9" transform="rotate(17 1531.2 1207.5)"/><ellipse cx="1529.7" cy="1220.4" rx="3.2" ry="2" transform="rotate(23 1529.7 1220.4)"/><ellipse cx="1535.5" cy="1246.4" rx="3.3" ry="2" transform="rotate(44 1535.5 1246.4)"/><ellipse cx="1541.3" cy="1250.7" rx="2.9" ry="1.8" transform="rotate(122 1541.3 1250.7)"/><ellipse cx="1558.6" cy="1263.7" rx="3" ry="1.9" transform="rotate(102 1558.6 1263.7)"/><ellipse cx="1565.8" cy="1268" rx="2.3" ry="1.4" transform="rotate(178 1565.8 1268)"/><ellipse cx="1570.1" cy="1273.7" rx="3.1" ry="1.9" transform="rotate(160 1570.1 1273.7)"/><ellipse cx="1562.9" cy="1260.8" rx="1.8" ry="1.1" transform="rotate(105 1562.9 1260.8)"/><ellipse cx="1639.2" cy="1237.7" rx="2.1" ry="1.3" transform="rotate(47 1639.2 1237.7)"/><ellipse cx="1689.6" cy="1246.4" rx="2.1" ry="1.3" transform="rotate(33 1689.6 1246.4)"/><ellipse cx="1352.6" cy="1291" rx="2.9" ry="1.8" transform="rotate(56 1352.6 1291)"/><ellipse cx="1364.1" cy="1302.5" rx="2.6" ry="1.6" transform="rotate(154 1364.1 1302.5)"/><ellipse cx="1447.6" cy="1318.4" rx="3.4" ry="2.1" transform="rotate(134 1447.6 1318.4)"/><ellipse cx="1613.3" cy="1301.1" rx="2.2" ry="1.4" transform="rotate(106 1613.3 1301.1)"/><ellipse cx="1486.5" cy="1348.6" rx="1.7" ry="1.1" transform="rotate(137 1486.5 1348.6)"/><ellipse cx="1351.1" cy="1363" rx="3.3" ry="2" transform="rotate(121 1351.1 1363)"/><ellipse cx="1332.4" cy="1381.8" rx="3.2" ry="2" transform="rotate(165 1332.4 1381.8)"/><ellipse cx="1388.6" cy="1386.1" rx="2.6" ry="1.6" transform="rotate(69 1388.6 1386.1)"/><ellipse cx="1682.4" cy="1342.9" rx="3.1" ry="1.9" transform="rotate(106 1682.4 1342.9)"/><ellipse cx="1234.5" cy="1252.1" rx="2.7" ry="1.7" transform="rotate(143 1234.5 1252.1)"/><ellipse cx="1221.5" cy="1236.3" rx="3.3" ry="2" transform="rotate(23 1221.5 1236.3)"/></g>
</g>
<rect x="1603.1" y="1369" width="60.9" height="6.9" fill="#fff"/>
<text transform="translate(1601.6 1358.9) scale(1 1.06)" font-size="24.3" font-weight="bold" style="fill:#fff">1 mm</text>
<path d="M5.1 1035.5V1052" stroke="#151515" stroke-width="2.3"/><rect x="3.8" y="1024.2" width="2.4" height="4.2" fill="#151515"/><path d="M4 79.5L5.9 85.5H4.2Z" fill="#151515"/>
<text transform="translate(1163.1 1011.4) scale(1.038 1)" font-size="32.6" font-weight="bold" fill="#231f20">I</text>
</svg></body></html>
